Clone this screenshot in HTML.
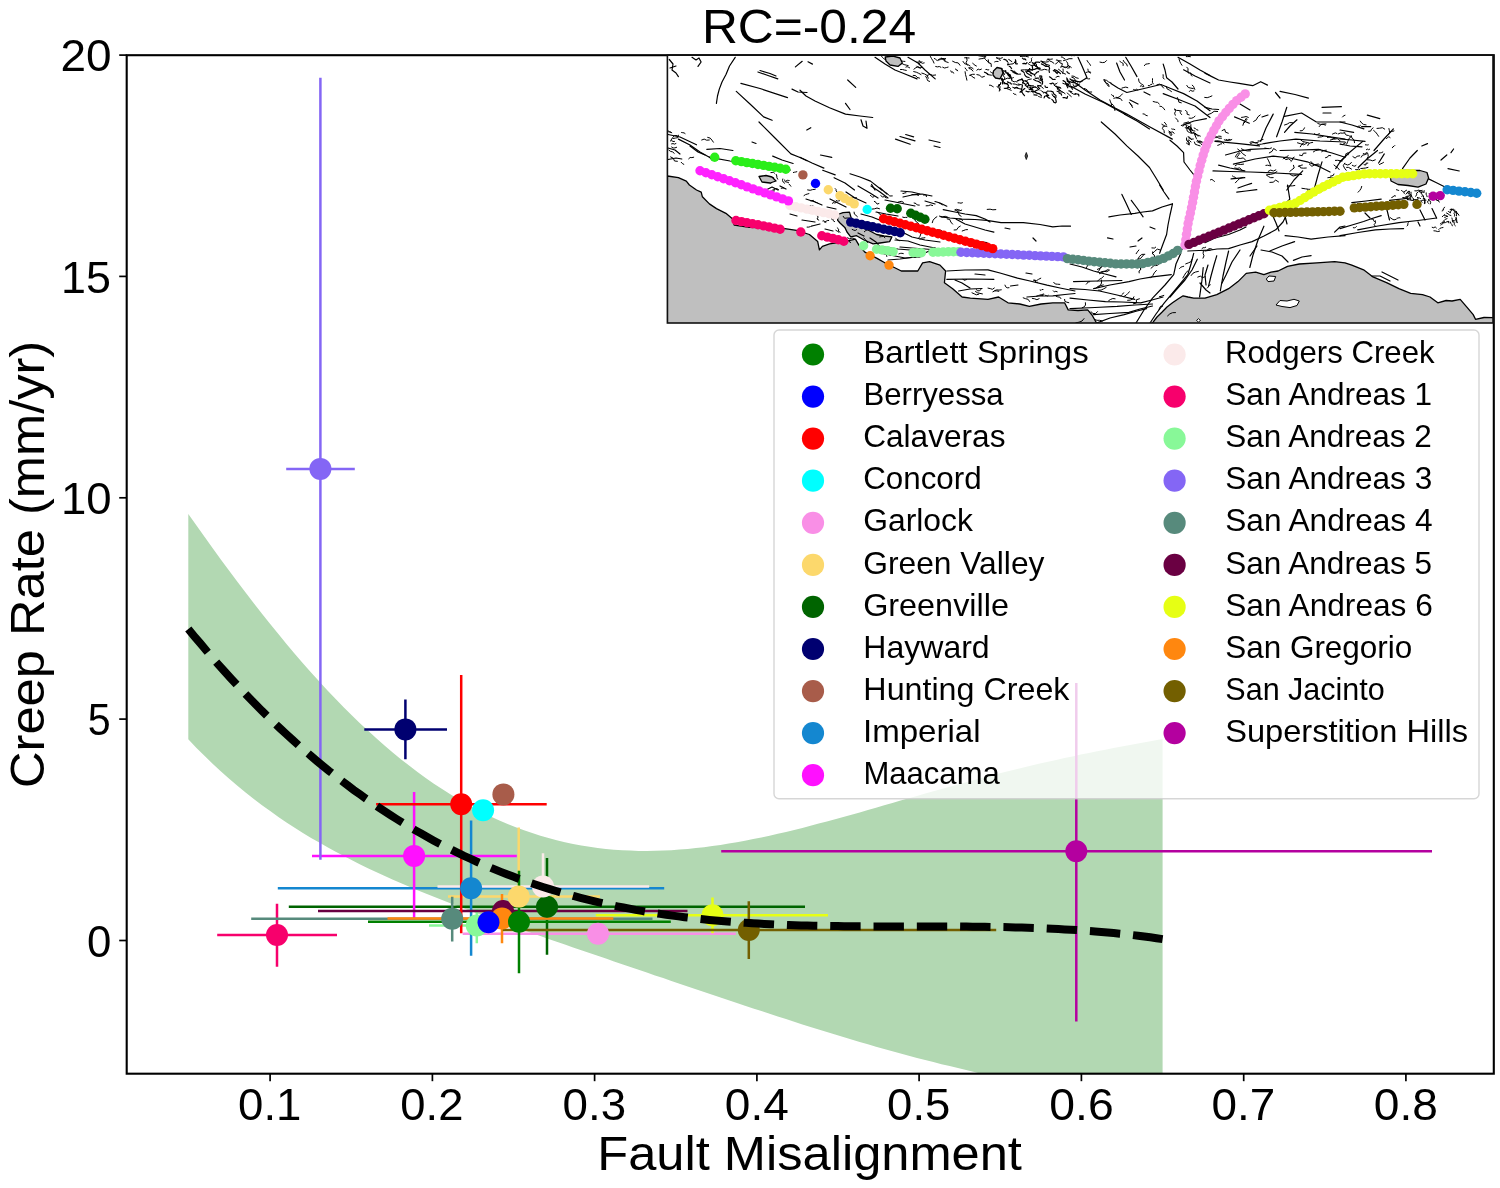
<!DOCTYPE html><html><head><meta charset="utf-8"><style>html,body{margin:0;padding:0;background:#fff}svg{display:block;filter:blur(0.4px)}text{font-family:"Liberation Sans",sans-serif}</style></head><body>
<svg width="1500" height="1188" viewBox="0 0 1500 1188">
<rect width="1500" height="1188" fill="#fff"/>
<defs><clipPath id="ax"><rect x="126.7" y="55.2" width="1367.1" height="1018.5"/></clipPath></defs>
<g clip-path="url(#ax)">
<path d="M188.3,514.0 L196.5,525.6 L204.7,537.1 L212.9,548.5 L221.0,559.7 L229.2,570.8 L237.4,581.8 L245.6,592.6 L253.8,603.2 L262.0,613.7 L270.2,624.0 L278.4,634.1 L286.5,644.0 L294.7,653.7 L302.9,663.2 L311.1,672.5 L319.3,681.5 L327.5,690.4 L335.7,699.0 L343.9,707.4 L352.0,715.5 L360.2,723.4 L368.4,731.1 L376.6,738.5 L384.8,745.7 L393.0,752.7 L401.2,759.4 L409.4,765.8 L417.5,772.0 L425.7,778.0 L433.9,783.7 L442.1,789.1 L450.3,794.3 L458.5,799.3 L466.7,804.0 L474.9,808.5 L483.0,812.7 L491.2,816.7 L499.4,820.4 L507.6,824.0 L515.8,827.2 L524.0,830.3 L532.2,833.1 L540.4,835.7 L548.5,838.1 L556.7,840.3 L564.9,842.2 L573.1,843.9 L581.3,845.5 L589.5,846.8 L597.7,848.0 L605.9,848.9 L614.0,849.7 L622.2,850.2 L630.4,850.6 L638.6,850.9 L646.8,850.9 L655.0,850.8 L663.2,850.6 L671.4,850.2 L679.5,849.6 L687.7,849.0 L695.9,848.1 L704.1,847.2 L712.3,846.1 L720.5,844.9 L728.7,843.6 L736.9,842.2 L745.0,840.7 L753.2,839.1 L761.4,837.4 L769.6,835.7 L777.8,833.8 L786.0,831.9 L794.2,829.9 L802.4,827.9 L810.5,825.8 L818.7,823.6 L826.9,821.5 L835.1,819.2 L843.3,817.0 L851.5,814.7 L859.7,812.4 L867.9,810.0 L876.0,807.7 L884.2,805.3 L892.4,803.0 L900.6,800.6 L908.8,798.3 L917.0,795.9 L925.2,793.6 L933.4,791.3 L941.5,788.9 L949.7,786.7 L957.9,784.4 L966.1,782.2 L974.3,780.0 L982.5,777.8 L990.7,775.6 L998.9,773.5 L1007.0,771.5 L1015.2,769.4 L1023.4,767.5 L1031.6,765.5 L1039.8,763.6 L1048.0,761.7 L1056.2,759.9 L1064.4,758.1 L1072.5,756.4 L1080.7,754.6 L1088.9,753.0 L1097.1,751.3 L1105.3,749.7 L1113.5,748.1 L1121.7,746.6 L1129.9,745.1 L1138.0,743.6 L1146.2,742.1 L1154.4,740.6 L1162.6,739.1 L1162.6,1122.8 L1154.4,1120.6 L1146.2,1118.4 L1138.0,1116.2 L1129.9,1114.0 L1121.7,1111.7 L1113.5,1109.5 L1105.3,1107.3 L1097.1,1105.1 L1088.9,1102.9 L1080.7,1100.7 L1072.5,1098.5 L1064.4,1096.3 L1056.2,1094.1 L1048.0,1091.8 L1039.8,1089.6 L1031.6,1087.4 L1023.4,1085.2 L1015.2,1083.0 L1007.0,1080.8 L998.9,1078.6 L990.7,1076.4 L982.5,1074.2 L974.3,1072.0 L966.1,1070.0 L957.9,1068.1 L949.7,1066.1 L941.5,1064.2 L933.4,1062.1 L925.2,1060.0 L917.0,1057.9 L908.8,1055.7 L900.6,1053.5 L892.4,1051.3 L884.2,1049.0 L876.0,1046.7 L867.9,1044.3 L859.7,1041.9 L851.5,1039.5 L843.3,1037.1 L835.1,1034.6 L826.9,1032.1 L818.7,1029.5 L810.5,1027.0 L802.4,1024.4 L794.2,1021.8 L786.0,1019.1 L777.8,1016.5 L769.6,1013.8 L761.4,1011.1 L753.2,1008.4 L745.0,1005.7 L736.9,1003.0 L728.7,1000.3 L720.5,997.5 L712.3,994.8 L704.1,992.0 L695.9,989.3 L687.7,986.5 L679.5,983.7 L671.4,980.9 L663.2,978.1 L655.0,975.4 L646.8,972.6 L638.6,969.8 L630.4,967.0 L622.2,964.2 L614.0,961.4 L605.9,958.6 L597.7,955.8 L589.5,953.0 L581.3,950.2 L573.1,947.4 L564.9,944.5 L556.7,941.7 L548.5,938.9 L540.4,936.0 L532.2,933.2 L524.0,930.3 L515.8,927.4 L507.6,924.5 L499.4,921.5 L491.2,918.6 L483.0,915.6 L474.9,912.6 L466.7,909.5 L458.5,906.4 L450.3,903.3 L442.1,900.1 L433.9,896.8 L425.7,893.5 L417.5,890.2 L409.4,886.7 L401.2,883.2 L393.0,879.7 L384.8,876.0 L376.6,872.2 L368.4,868.4 L360.2,864.4 L352.0,860.3 L343.9,856.1 L335.7,851.8 L327.5,847.3 L319.3,842.6 L311.1,837.9 L302.9,832.9 L294.7,827.7 L286.5,822.4 L278.4,816.9 L270.2,811.1 L262.0,805.2 L253.8,799.0 L245.6,792.5 L237.4,785.8 L229.2,778.8 L221.0,771.6 L212.9,764.0 L204.7,756.1 L196.5,747.9 L188.3,739.3Z" fill="#b2d8b2"/>
<g stroke-width="2.5" fill="none">
<line x1="462.7" y1="933.7" x2="735.8" y2="933.7" stroke="#f98fe6"/>
<line x1="448" y1="896.6" x2="600" y2="896.6" stroke="#fcd86c"/>
<line x1="518.7" y1="827.6" x2="518.7" y2="900" stroke="#fcd86c"/>
<line x1="288.8" y1="906.8" x2="805" y2="906.8" stroke="#006400"/>
<line x1="547" y1="857.9" x2="547" y2="954.7" stroke="#006400"/>
<line x1="364.3" y1="729.4" x2="447" y2="729.4" stroke="#000070"/>
<line x1="405.4" y1="699.6" x2="405.4" y2="759.3" stroke="#000070"/>
<line x1="277.8" y1="888.2" x2="664.2" y2="888.2" stroke="#1487d0"/>
<line x1="471.1" y1="820.4" x2="471.1" y2="955.7" stroke="#1487d0"/>
<line x1="312" y1="855.9" x2="516.8" y2="855.9" stroke="#ff10ff"/>
<line x1="414.1" y1="792.1" x2="414.1" y2="919.5" stroke="#ff10ff"/>
<line x1="437.5" y1="886.5" x2="649.2" y2="886.5" stroke="#fbeaea"/>
<line x1="543" y1="853.2" x2="543" y2="890" stroke="#fbeaea"/>
<line x1="217.2" y1="935" x2="337" y2="935" stroke="#f7006c"/>
<line x1="277" y1="903.7" x2="277" y2="966.7" stroke="#f7006c"/>
<line x1="429" y1="925.5" x2="505" y2="925.5" stroke="#88f898"/>
<line x1="476.8" y1="909" x2="476.8" y2="943.3" stroke="#88f898"/>
<line x1="286.2" y1="468.9" x2="354.8" y2="468.9" stroke="#8466f5"/>
<line x1="320.4" y1="77.7" x2="320.4" y2="859.7" stroke="#8466f5"/>
<line x1="251.2" y1="918.8" x2="652.5" y2="918.8" stroke="#578a7c"/>
<line x1="452.2" y1="896.7" x2="452.2" y2="941.6" stroke="#578a7c"/>
<line x1="318" y1="911" x2="687.5" y2="911" stroke="#6a0042"/>
<line x1="503" y1="900" x2="503" y2="915" stroke="#6a0042"/>
<line x1="595.8" y1="915.3" x2="828" y2="915.3" stroke="#e6ff14"/>
<line x1="712.5" y1="897.5" x2="712.5" y2="933.3" stroke="#e6ff14"/>
<line x1="387.5" y1="918.4" x2="613.3" y2="918.4" stroke="#ff870f"/>
<line x1="502" y1="894" x2="502" y2="943.3" stroke="#ff870f"/>
<line x1="502.7" y1="930" x2="996.2" y2="930" stroke="#735f00"/>
<line x1="748.8" y1="901.3" x2="748.8" y2="959" stroke="#735f00"/>
<line x1="721.2" y1="851.3" x2="1432" y2="851.3" stroke="#b4009f"/>
<line x1="1076.3" y1="683" x2="1076.3" y2="1021.5" stroke="#b4009f"/>
<line x1="368" y1="921.8" x2="670.8" y2="921.8" stroke="#008000"/>
<line x1="519" y1="870.7" x2="519" y2="973.3" stroke="#008000"/>
<line x1="376.1" y1="804.3" x2="546.7" y2="804.3" stroke="#ff0000"/>
<line x1="461.2" y1="675" x2="461.2" y2="933.3" stroke="#ff0000"/>
</g>
<circle cx="503" cy="911" r="11.0" fill="#6a0042"/>
<circle cx="476.8" cy="925.5" r="11.0" fill="#88f898"/>
<circle cx="502" cy="918.4" r="11.0" fill="#ff870f"/>
<circle cx="488.5" cy="922.3" r="11.0" fill="#0000ff"/>
<circle cx="519" cy="921.8" r="11.0" fill="#008000"/>
<circle cx="598" cy="933.7" r="11.0" fill="#f98fe6"/>
<circle cx="483.1" cy="810.3" r="11.0" fill="#00ffff"/>
<circle cx="503.4" cy="794.4" r="11.0" fill="#a85c4a"/>
<circle cx="461.2" cy="804.3" r="11.0" fill="#ff0000"/>
<circle cx="518.7" cy="896.6" r="11.0" fill="#fcd86c"/>
<circle cx="547" cy="906.8" r="11.0" fill="#006400"/>
<circle cx="405.4" cy="729.4" r="11.0" fill="#000070"/>
<circle cx="471.1" cy="888.2" r="11.0" fill="#1487d0"/>
<circle cx="414.1" cy="855.9" r="11.0" fill="#ff10ff"/>
<circle cx="543" cy="886.5" r="11.0" fill="#fbeaea"/>
<circle cx="277" cy="935" r="11.0" fill="#f7006c"/>
<circle cx="320.4" cy="468.9" r="11.0" fill="#8466f5"/>
<circle cx="452.2" cy="918.8" r="11.0" fill="#578a7c"/>
<circle cx="712.5" cy="915.3" r="11.0" fill="#e6ff14"/>
<circle cx="748.8" cy="930" r="11.0" fill="#735f00"/>
<circle cx="1076.3" cy="851.3" r="11.0" fill="#b4009f"/>
<path d="M188.3,628.9 L194.4,636.4 L200.6,643.7 L206.7,651.0 L212.8,658.1 L218.9,665.1 L225.1,672.0 L231.2,678.7 L237.3,685.3 L243.4,691.8 L249.6,698.2 L255.7,704.5 L261.8,710.7 L268.0,716.7 L274.1,722.7 L280.2,728.5 L286.3,734.2 L292.5,739.8 L298.6,745.3 L304.7,750.6 L310.9,755.9 L317.0,761.1 L323.1,766.1 L329.2,771.1 L335.4,775.9 L341.5,780.7 L347.6,785.3 L353.7,789.9 L359.9,794.3 L366.0,798.7 L372.1,802.9 L378.3,807.1 L384.4,811.1 L390.5,815.1 L396.6,819.0 L402.8,822.8 L408.9,826.5 L415.0,830.1 L421.2,833.6 L427.3,837.0 L433.4,840.4 L439.5,843.7 L445.7,846.8 L451.8,849.9 L457.9,852.9 L464.0,855.9 L470.2,858.7 L476.3,861.5 L482.4,864.2 L488.6,866.8 L494.7,869.4 L500.8,871.9 L506.9,874.3 L513.1,876.6 L519.2,878.9 L525.3,881.0 L531.4,883.2 L537.6,885.2 L543.7,887.2 L549.8,889.1 L556.0,891.0 L562.1,892.8 L568.2,894.5 L574.3,896.2 L580.5,897.8 L586.6,899.4 L592.7,900.9 L598.9,902.3 L605.0,903.7 L611.1,905.0 L617.2,906.3 L623.4,907.5 L629.5,908.7 L635.6,909.9 L641.7,910.9 L647.9,912.0 L654.0,912.9 L660.1,913.9 L666.3,914.8 L672.4,915.6 L678.5,916.4 L684.6,917.2 L690.8,917.9 L696.9,918.6 L703.0,919.3 L709.2,919.9 L715.3,920.4 L721.4,921.0 L727.5,921.5 L733.7,922.0 L739.8,922.4 L745.9,922.8 L752.0,923.2 L758.2,923.6 L764.3,923.9 L770.4,924.2 L776.6,924.5 L782.7,924.7 L788.8,925.0 L794.9,925.2 L801.1,925.4 L807.2,925.5 L813.3,925.7 L819.5,925.8 L825.6,925.9 L831.7,926.0 L837.8,926.1 L844.0,926.2 L850.1,926.3 L856.2,926.3 L862.3,926.3 L868.5,926.4 L874.6,926.4 L880.7,926.4 L886.9,926.4 L893.0,926.4 L899.1,926.5 L905.2,926.5 L911.4,926.5 L917.5,926.5 L923.6,926.5 L929.7,926.5 L935.9,926.5 L942.0,926.5 L948.1,926.5 L954.3,926.5 L960.4,926.6 L966.5,926.6 L972.6,926.7 L978.8,926.7 L984.9,926.8 L991.0,926.9 L997.2,927.0 L1003.3,927.1 L1009.4,927.2 L1015.5,927.4 L1021.7,927.6 L1027.8,927.8 L1033.9,928.0 L1040.0,928.2 L1046.2,928.4 L1052.3,928.7 L1058.4,929.0 L1064.6,929.4 L1070.7,929.7 L1076.8,930.1 L1082.9,930.5 L1089.1,931.0 L1095.2,931.4 L1101.3,931.9 L1107.5,932.5 L1113.6,933.1 L1119.7,933.7 L1125.8,934.3 L1132.0,935.0 L1138.1,935.7 L1144.2,936.5 L1150.3,937.3 L1156.5,938.2 L1162.6,939.1" fill="none" stroke="#000" stroke-width="8" stroke-dasharray="30.4 12.9"/>
</g>
<rect x="126.7" y="55.2" width="1367.1" height="1018.5" fill="none" stroke="#000" stroke-width="2.1"/>
<line x1="270.1" y1="1073.7" x2="270.1" y2="1081.2" stroke="#000" stroke-width="1.7"/>
<line x1="432.4" y1="1073.7" x2="432.4" y2="1081.2" stroke="#000" stroke-width="1.7"/>
<line x1="594.6" y1="1073.7" x2="594.6" y2="1081.2" stroke="#000" stroke-width="1.7"/>
<line x1="756.9" y1="1073.7" x2="756.9" y2="1081.2" stroke="#000" stroke-width="1.7"/>
<line x1="919.1" y1="1073.7" x2="919.1" y2="1081.2" stroke="#000" stroke-width="1.7"/>
<line x1="1081.4" y1="1073.7" x2="1081.4" y2="1081.2" stroke="#000" stroke-width="1.7"/>
<line x1="1243.7" y1="1073.7" x2="1243.7" y2="1081.2" stroke="#000" stroke-width="1.7"/>
<line x1="1405.9" y1="1073.7" x2="1405.9" y2="1081.2" stroke="#000" stroke-width="1.7"/>
<line x1="119.2" y1="940.5" x2="126.7" y2="940.5" stroke="#000" stroke-width="1.7"/>
<line x1="119.2" y1="719.1" x2="126.7" y2="719.1" stroke="#000" stroke-width="1.7"/>
<line x1="119.2" y1="497.8" x2="126.7" y2="497.8" stroke="#000" stroke-width="1.7"/>
<line x1="119.2" y1="276.4" x2="126.7" y2="276.4" stroke="#000" stroke-width="1.7"/>
<line x1="119.2" y1="55.1" x2="126.7" y2="55.1" stroke="#000" stroke-width="1.7"/>
<text transform="translate(238.05,1120.00) scale(1.0350,1)" font-size="44.07">0.1</text>
<text transform="translate(400.31,1120.00) scale(1.0297,1)" font-size="44.07">0.2</text>
<text transform="translate(562.56,1120.00) scale(1.0382,1)" font-size="44.07">0.3</text>
<text transform="translate(724.81,1120.00) scale(1.0442,1)" font-size="44.07">0.4</text>
<text transform="translate(887.09,1120.00) scale(1.0326,1)" font-size="44.07">0.5</text>
<text transform="translate(1049.32,1120.00) scale(1.0508,1)" font-size="44.07">0.6</text>
<text transform="translate(1211.60,1120.00) scale(1.0406,1)" font-size="44.07">0.7</text>
<text transform="translate(1373.84,1120.00) scale(1.0472,1)" font-size="44.07">0.8</text>
<text transform="translate(87.10,956.70) scale(0.9935,1)" font-size="44.07">0</text>
<text transform="translate(87.72,735.35) scale(0.9345,1)" font-size="44.07">5</text>
<text transform="translate(60.96,514.00) scale(1.0336,1)" font-size="44.07">10</text>
<text transform="translate(61.01,292.65) scale(1.0173,1)" font-size="44.07">15</text>
<text transform="translate(60.52,71.30) scale(1.0428,1)" font-size="44.07">20</text>
<text transform="translate(597.32,1169.70) scale(1.0561,1)" font-size="47.92">Fault Misalignment</text>
<text transform="translate(701.90,42.50) scale(1.0355,1)" font-size="48.04">RC=-0.24</text>
<g transform="translate(43.7,0) rotate(-90)"><text transform="translate(-787.93,0.00) scale(1.0592,1)" font-size="47.80">Creep Rate (mm/yr)</text></g>
<g id="map">
<defs><clipPath id="mp"><rect x="667.4" y="55.2" width="825.6" height="267.8"/></clipPath></defs>
<rect x="667.4" y="55.2" width="825.6" height="267.8" fill="#fff"/>
<g clip-path="url(#mp)">
<polygon points="667.4,176.0 678.4,177.7 686.3,181.1 689.4,185.0 696.5,190.0 701.2,192.1 702.4,196.8 709.4,203.9 716.5,208.6 725.9,213.3 733.0,219.2 734.2,225.1 749.5,227.4 784.8,228.6 796.6,230.4 809.4,234.5 817.7,241.6 819.4,249.8 822.4,246.3 829.5,243.9 844.8,241.6 855.4,239.2 858.9,245.1 864.8,252.2 876.6,258.1 884.8,262.8 894.3,267.5 901.3,271.0 917.8,271.0 922.6,262.8 929.6,261.6 940.0,265.1 945.6,271.0 944.4,282.8 952.7,288.7 962.1,297.0 970.4,298.1 988.0,299.3 998.6,297.0 1008.0,302.8 1019.8,304.0 1029.3,306.4 1041.1,304.0 1052.8,302.8 1064.6,302.8 1068.2,309.9 1078.0,310.5 1087.7,309.9 1092.0,315.0 1097.1,324.0 667.4,324.0" fill="#bfbfbf" stroke="#000" stroke-width="1.3" stroke-linejoin="round"/>
<polygon points="1150.0,324.0 1152.5,322.9 1157.0,317.0 1161.9,312.3 1167.0,307.0 1172.5,302.8 1178.0,299.0 1183.1,295.8 1188.0,297.0 1193.7,298.1 1205.0,298.1 1216.8,294.6 1228.6,288.7 1238.0,281.6 1246.2,273.4 1255.7,272.2 1263.9,274.6 1271.0,272.2 1278.1,271.0 1287.5,266.3 1299.3,264.0 1317.0,262.8 1334.6,261.6 1345.0,262.8 1351.8,265.1 1363.6,269.8 1373.0,276.9 1387.1,282.8 1398.9,288.7 1410.7,293.4 1422.5,294.6 1430.0,297.0 1437.8,302.8 1446.1,300.5 1452.0,301.0 1460.2,299.3 1467.3,307.6 1473.2,314.6 1475.5,319.3 1484.0,317.5 1494.0,317.6 1494.0,324.0" fill="#bfbfbf" stroke="#000" stroke-width="1.3" stroke-linejoin="round"/>
<polygon points="1276.0,305.0 1280.0,300.5 1287.0,301.0 1294.0,299.3 1299.3,301.0 1297.0,305.5 1290.0,307.6 1282.0,306.5" fill="#fff" stroke="#000" stroke-width="1.0" stroke-linejoin="round"/>
<polygon points="1266.3,279.0 1269.0,276.0 1275.7,276.5 1274.0,281.0 1268.0,281.6" fill="#fff" stroke="#000" stroke-width="1.0" stroke-linejoin="round"/>
<polygon points="1196.5,320.5 1198.4,318.6 1200.5,320.5 1198.4,322.0" fill="#fff" stroke="#000" stroke-width="0.9" stroke-linejoin="round"/>
<polygon points="837.7,214.5 843.0,212.6 849.5,212.1 851.9,220.4 856.0,224.0 861.3,227.4 868.0,230.0 876.6,234.5 884.0,236.0 891.9,236.9 889.6,241.6 880.0,243.0 873.1,243.9 864.0,240.0 856.6,235.7 850.7,236.9 847.0,232.0 844.8,227.4 840.0,223.0 837.7,220.4" fill="#bfbfbf" stroke="#000" stroke-width="1.3" stroke-linejoin="round"/>
<polyline points="735.2,57.3 729.5,66.0 726.1,74.3 722.0,82.0 719.3,89.1 717.5,96.0 716.4,103.3" fill="none" stroke="#000" stroke-width="1.2" stroke-linejoin="round" stroke-linecap="round"/>
<polyline points="740.9,83.4 760.0,88.5 787.5,97.6" fill="none" stroke="#000" stroke-width="1.2" stroke-linejoin="round" stroke-linecap="round"/>
<polyline points="757.9,72.0 768.0,75.5 777.8,78.9" fill="none" stroke="#000" stroke-width="1.2" stroke-linejoin="round" stroke-linecap="round"/>
<polyline points="760.0,70.5 770.0,73.5 776.0,76.0" fill="none" stroke="#000" stroke-width="1.2" stroke-linejoin="round" stroke-linecap="round"/>
<polyline points="736.3,91.4 750.0,104.0 763.6,116.9 772.1,120.3" fill="none" stroke="#000" stroke-width="1.2" stroke-linejoin="round" stroke-linecap="round"/>
<polyline points="759.0,122.0 775.0,138.0 790.9,153.9 800.0,157.5 807.0,160.7" fill="none" stroke="#000" stroke-width="1.2" stroke-linejoin="round" stroke-linecap="round"/>
<polyline points="795.4,66.9 802.2,61.3" fill="none" stroke="#000" stroke-width="1.2" stroke-linejoin="round" stroke-linecap="round"/>
<polyline points="669.3,59.5 673.0,64.0 672.0,70.0 676.0,73.0 678.4,76.6" fill="none" stroke="#000" stroke-width="1.2" stroke-linejoin="round" stroke-linecap="round"/>
<polyline points="670.0,68.0 676.0,66.0" fill="none" stroke="#000" stroke-width="1.2" stroke-linejoin="round" stroke-linecap="round"/>
<polyline points="692.0,57.3 696.0,60.0 699.0,58.0 701.1,62.0 698.0,66.4" fill="none" stroke="#000" stroke-width="1.2" stroke-linejoin="round" stroke-linecap="round"/>
<polyline points="668.1,134.5 680.0,137.0 696.5,144.8" fill="none" stroke="#000" stroke-width="1.2" stroke-linejoin="round" stroke-linecap="round"/>
<polyline points="678.4,139.1 690.0,145.0 700.0,152.0 710.2,157.8" fill="none" stroke="#000" stroke-width="1.2" stroke-linejoin="round" stroke-linecap="round"/>
<polyline points="668.1,159.5 676.0,158.0 681.8,159.0" fill="none" stroke="#000" stroke-width="1.2" stroke-linejoin="round" stroke-linecap="round"/>
<polyline points="668.0,148.0 675.0,150.0 680.0,154.0" fill="none" stroke="#000" stroke-width="1.2" stroke-linejoin="round" stroke-linecap="round"/>
<polyline points="706.8,149.3 720.0,148.5 732.9,150.5" fill="none" stroke="#000" stroke-width="1.2" stroke-linejoin="round" stroke-linecap="round"/>
<polyline points="710.2,157.3 730.0,161.0 750.0,164.0 770.0,167.0 789.7,169.8" fill="none" stroke="#000" stroke-width="1.2" stroke-linejoin="round" stroke-linecap="round"/>
<polyline points="772.7,156.1 782.0,160.0 793.1,163.5" fill="none" stroke="#000" stroke-width="1.2" stroke-linejoin="round" stroke-linecap="round"/>
<polyline points="792.0,89.1 798.0,92.0 807.0,92.5" fill="none" stroke="#000" stroke-width="1.2" stroke-linejoin="round" stroke-linecap="round"/>
<polyline points="752.0,142.0 756.0,143.5" fill="none" stroke="#000" stroke-width="1.2" stroke-linejoin="round" stroke-linecap="round"/>
<polyline points="690.0,146.0 698.0,152.0 705.0,155.0" fill="none" stroke="#000" stroke-width="1.2" stroke-linejoin="round" stroke-linecap="round"/>
<polyline points="800.0,90.2 806.0,96.0 815.0,101.0 829.5,107.8 845.5,114.1 860.0,116.0 872.7,117.5" fill="none" stroke="#000" stroke-width="1.2" stroke-linejoin="round" stroke-linecap="round"/>
<polyline points="847.7,80.0 855.7,87.4" fill="none" stroke="#000" stroke-width="1.2" stroke-linejoin="round" stroke-linecap="round"/>
<polyline points="845.5,103.3 850.0,109.5" fill="none" stroke="#000" stroke-width="1.2" stroke-linejoin="round" stroke-linecap="round"/>
<polyline points="861.0,119.8 863.0,126.0 867.0,128.3 866.0,121.0" fill="none" stroke="#000" stroke-width="1.2" stroke-linejoin="round" stroke-linecap="round"/>
<polyline points="808.0,61.8 812.5,64.1" fill="none" stroke="#000" stroke-width="1.2" stroke-linejoin="round" stroke-linecap="round"/>
<polyline points="806.8,130.0 810.8,127.7" fill="none" stroke="#000" stroke-width="1.2" stroke-linejoin="round" stroke-linecap="round"/>
<polyline points="895.5,139.1 910.2,144.2" fill="none" stroke="#000" stroke-width="1.2" stroke-linejoin="round" stroke-linecap="round"/>
<polyline points="900.0,136.5 915.0,140.8" fill="none" stroke="#000" stroke-width="1.2" stroke-linejoin="round" stroke-linecap="round"/>
<polyline points="905.7,134.5 913.6,136.8" fill="none" stroke="#000" stroke-width="1.2" stroke-linejoin="round" stroke-linecap="round"/>
<polyline points="929.0,140.0 940.0,142.5" fill="none" stroke="#000" stroke-width="1.2" stroke-linejoin="round" stroke-linecap="round"/>
<polyline points="934.0,146.0 940.0,147.5" fill="none" stroke="#000" stroke-width="1.2" stroke-linejoin="round" stroke-linecap="round"/>
<polyline points="800.0,157.3 812.0,163.0 823.9,168.1" fill="none" stroke="#000" stroke-width="1.2" stroke-linejoin="round" stroke-linecap="round"/>
<polyline points="820.5,155.0 831.8,157.3" fill="none" stroke="#000" stroke-width="1.2" stroke-linejoin="round" stroke-linecap="round"/>
<polyline points="822.7,170.3 835.2,174.9" fill="none" stroke="#000" stroke-width="1.2" stroke-linejoin="round" stroke-linecap="round"/>
<polyline points="834.1,177.7 845.0,183.0 854.5,190.0" fill="none" stroke="#000" stroke-width="1.2" stroke-linejoin="round" stroke-linecap="round"/>
<polyline points="850.0,173.8 860.0,177.0 870.5,181.1 881.8,190.0" fill="none" stroke="#000" stroke-width="1.2" stroke-linejoin="round" stroke-linecap="round"/>
<polyline points="871.6,184.5 875.0,190.0" fill="none" stroke="#000" stroke-width="1.2" stroke-linejoin="round" stroke-linecap="round"/>
<polyline points="875.0,57.3 885.0,64.0 895.0,70.0 905.0,74.0 917.0,78.9" fill="none" stroke="#000" stroke-width="1.2" stroke-linejoin="round" stroke-linecap="round"/>
<polyline points="908.0,57.3 918.0,63.0 925.0,70.0 935.2,78.9" fill="none" stroke="#000" stroke-width="1.2" stroke-linejoin="round" stroke-linecap="round"/>
<polyline points="1101.3,122.0 1115.0,134.0 1126.8,145.9 1138.0,156.0 1149.5,167.5 1156.0,178.0 1163.2,190.0" fill="none" stroke="#000" stroke-width="1.2" stroke-linejoin="round" stroke-linecap="round"/>
<polyline points="1070.0,78.9 1085.0,90.0 1100.0,100.0 1115.0,108.0 1126.8,114.1 1150.0,127.0 1172.3,139.1" fill="none" stroke="#000" stroke-width="1.2" stroke-linejoin="round" stroke-linecap="round"/>
<polyline points="1070.0,85.7 1085.0,94.0 1104.1,102.7 1124.5,114.1" fill="none" stroke="#000" stroke-width="1.2" stroke-linejoin="round" stroke-linecap="round"/>
<polyline points="1124.5,114.1 1137.0,121.0 1149.5,128.9" fill="none" stroke="#000" stroke-width="1.2" stroke-linejoin="round" stroke-linecap="round"/>
<polyline points="1110.9,83.4 1118.0,88.0 1126.8,92.5 1142.0,89.0 1160.9,84.5" fill="none" stroke="#000" stroke-width="1.2" stroke-linejoin="round" stroke-linecap="round"/>
<polyline points="1160.9,84.5 1172.0,89.0 1183.6,93.6 1197.0,101.0 1210.0,110.7" fill="none" stroke="#000" stroke-width="1.2" stroke-linejoin="round" stroke-linecap="round"/>
<polyline points="1163.2,93.6 1180.0,100.0 1195.0,106.0 1210.0,117.5" fill="none" stroke="#000" stroke-width="1.2" stroke-linejoin="round" stroke-linecap="round"/>
<polyline points="1163.2,64.1 1165.0,70.0 1166.6,77.7 1172.0,82.0 1178.0,89.0" fill="none" stroke="#000" stroke-width="1.2" stroke-linejoin="round" stroke-linecap="round"/>
<polyline points="1078.0,57.3 1082.0,66.0 1087.0,77.7 1080.0,82.0 1072.0,80.0" fill="none" stroke="#000" stroke-width="1.2" stroke-linejoin="round" stroke-linecap="round"/>
<polyline points="1116.6,63.0 1120.0,72.0 1124.5,80.0" fill="none" stroke="#000" stroke-width="1.2" stroke-linejoin="round" stroke-linecap="round"/>
<polyline points="1125.7,57.3 1131.0,66.0 1137.0,76.6" fill="none" stroke="#000" stroke-width="1.2" stroke-linejoin="round" stroke-linecap="round"/>
<polyline points="1178.0,57.3 1190.0,64.0 1200.0,70.0 1210.0,75.5" fill="none" stroke="#000" stroke-width="1.2" stroke-linejoin="round" stroke-linecap="round"/>
<polyline points="1183.6,69.8 1195.0,76.0 1210.0,83.0" fill="none" stroke="#000" stroke-width="1.2" stroke-linejoin="round" stroke-linecap="round"/>
<polyline points="1181.4,125.5 1194.0,121.0 1206.4,118.6" fill="none" stroke="#000" stroke-width="1.2" stroke-linejoin="round" stroke-linecap="round"/>
<polyline points="1170.0,140.2 1177.0,146.0 1183.6,152.7 1184.0,162.0 1190.0,170.0 1196.1,177.7" fill="none" stroke="#000" stroke-width="1.2" stroke-linejoin="round" stroke-linecap="round"/>
<polyline points="1144.0,92.0 1150.0,95.0" fill="none" stroke="#000" stroke-width="1.2" stroke-linejoin="round" stroke-linecap="round"/>
<polyline points="1130.0,100.0 1138.0,104.0" fill="none" stroke="#000" stroke-width="1.2" stroke-linejoin="round" stroke-linecap="round"/>
<polyline points="1205.0,73.2 1211.8,76.6 1218.6,80.0 1230.0,82.0 1239.1,83.4 1252.7,85.7 1260.7,81.7 1267.5,85.1" fill="none" stroke="#000" stroke-width="1.2" stroke-linejoin="round" stroke-linecap="round"/>
<polyline points="1205.0,107.3 1212.0,109.0 1218.6,109.5" fill="none" stroke="#000" stroke-width="1.2" stroke-linejoin="round" stroke-linecap="round"/>
<polyline points="1234.5,116.9 1242.0,120.0 1249.3,123.2" fill="none" stroke="#000" stroke-width="1.2" stroke-linejoin="round" stroke-linecap="round"/>
<polyline points="1280.0,91.4 1295.0,94.5 1308.4,98.2" fill="none" stroke="#000" stroke-width="1.2" stroke-linejoin="round" stroke-linecap="round"/>
<polyline points="1275.5,92.5 1280.0,98.0" fill="none" stroke="#000" stroke-width="1.2" stroke-linejoin="round" stroke-linecap="round"/>
<polyline points="1322.0,107.3 1341.4,106.7" fill="none" stroke="#000" stroke-width="1.2" stroke-linejoin="round" stroke-linecap="round"/>
<polyline points="1323.0,113.0 1331.0,113.0" fill="none" stroke="#000" stroke-width="1.2" stroke-linejoin="round" stroke-linecap="round"/>
<polyline points="1260.7,141.4 1266.0,128.0 1273.2,114.1" fill="none" stroke="#000" stroke-width="1.2" stroke-linejoin="round" stroke-linecap="round"/>
<polyline points="1276.6,136.8 1282.0,122.0 1286.8,107.3" fill="none" stroke="#000" stroke-width="1.2" stroke-linejoin="round" stroke-linecap="round"/>
<polyline points="1284.5,132.3 1290.0,126.0 1297.0,119.8" fill="none" stroke="#000" stroke-width="1.2" stroke-linejoin="round" stroke-linecap="round"/>
<polyline points="1284.5,116.4 1301.6,113.0 1316.4,122.0 1330.0,122.0 1345.0,122.0" fill="none" stroke="#000" stroke-width="1.2" stroke-linejoin="round" stroke-linecap="round"/>
<polyline points="1215.2,141.4 1239.1,143.6 1259.5,145.9" fill="none" stroke="#000" stroke-width="1.2" stroke-linejoin="round" stroke-linecap="round"/>
<polyline points="1264.1,143.6 1280.0,141.0 1295.9,139.1 1320.0,141.0 1345.0,142.0" fill="none" stroke="#000" stroke-width="1.2" stroke-linejoin="round" stroke-linecap="round"/>
<polyline points="1294.8,132.3 1312.0,134.0 1330.0,136.8 1345.0,139.0" fill="none" stroke="#000" stroke-width="1.2" stroke-linejoin="round" stroke-linecap="round"/>
<polyline points="1225.5,155.0 1240.0,151.0 1250.5,149.3 1268.0,148.5" fill="none" stroke="#000" stroke-width="1.2" stroke-linejoin="round" stroke-linecap="round"/>
<polyline points="1280.0,150.5 1300.0,150.0 1318.6,149.3 1332.0,153.0 1345.0,157.3" fill="none" stroke="#000" stroke-width="1.2" stroke-linejoin="round" stroke-linecap="round"/>
<polyline points="1233.4,164.1 1255.0,159.0 1273.2,156.1 1290.0,158.0 1307.3,161.8 1320.0,167.0 1330.0,172.0" fill="none" stroke="#000" stroke-width="1.2" stroke-linejoin="round" stroke-linecap="round"/>
<polyline points="1213.0,170.9 1230.0,171.5 1250.5,172.0 1275.0,173.0 1301.6,174.3" fill="none" stroke="#000" stroke-width="1.2" stroke-linejoin="round" stroke-linecap="round"/>
<polyline points="1218.6,165.2 1230.0,168.0 1244.8,170.9" fill="none" stroke="#000" stroke-width="1.2" stroke-linejoin="round" stroke-linecap="round"/>
<polyline points="1231.1,178.9 1244.8,177.7" fill="none" stroke="#000" stroke-width="1.2" stroke-linejoin="round" stroke-linecap="round"/>
<polyline points="1238.0,188.0 1245.0,185.5 1251.6,183.4" fill="none" stroke="#000" stroke-width="1.2" stroke-linejoin="round" stroke-linecap="round"/>
<polyline points="1286.8,190.0 1294.0,180.0 1302.7,170.9" fill="none" stroke="#000" stroke-width="1.2" stroke-linejoin="round" stroke-linecap="round"/>
<polyline points="1335.7,168.6 1340.0,162.0 1345.0,157.0" fill="none" stroke="#000" stroke-width="1.2" stroke-linejoin="round" stroke-linecap="round"/>
<polyline points="1314.0,190.0 1318.0,175.0 1322.0,161.8" fill="none" stroke="#000" stroke-width="1.2" stroke-linejoin="round" stroke-linecap="round"/>
<polyline points="1262.0,117.0 1268.0,115.0" fill="none" stroke="#000" stroke-width="1.2" stroke-linejoin="round" stroke-linecap="round"/>
<polyline points="1240.0,104.0 1250.0,110.0" fill="none" stroke="#000" stroke-width="1.2" stroke-linejoin="round" stroke-linecap="round"/>
<polyline points="1374.0,150.5 1384.0,139.0 1393.4,128.9" fill="none" stroke="#000" stroke-width="1.2" stroke-linejoin="round" stroke-linecap="round"/>
<polyline points="1358.2,167.5 1367.0,159.0 1377.5,150.5" fill="none" stroke="#000" stroke-width="1.2" stroke-linejoin="round" stroke-linecap="round"/>
<polyline points="1340.0,161.8 1350.0,152.0 1362.7,141.4" fill="none" stroke="#000" stroke-width="1.2" stroke-linejoin="round" stroke-linecap="round"/>
<polyline points="1378.6,163.0 1384.3,153.9" fill="none" stroke="#000" stroke-width="1.2" stroke-linejoin="round" stroke-linecap="round"/>
<polyline points="1402.5,168.6 1410.0,158.0 1417.3,150.5" fill="none" stroke="#000" stroke-width="1.2" stroke-linejoin="round" stroke-linecap="round"/>
<polyline points="1421.8,146.0 1427.5,143.6" fill="none" stroke="#000" stroke-width="1.2" stroke-linejoin="round" stroke-linecap="round"/>
<polyline points="1441.0,160.0 1446.8,155.0" fill="none" stroke="#000" stroke-width="1.2" stroke-linejoin="round" stroke-linecap="round"/>
<polyline points="1451.0,152.7 1453.6,149.0" fill="none" stroke="#000" stroke-width="1.2" stroke-linejoin="round" stroke-linecap="round"/>
<polyline points="1448.0,168.6 1459.3,171.0" fill="none" stroke="#000" stroke-width="1.2" stroke-linejoin="round" stroke-linecap="round"/>
<polyline points="1367.3,115.2 1379.8,118.6" fill="none" stroke="#000" stroke-width="1.2" stroke-linejoin="round" stroke-linecap="round"/>
<polyline points="1340.0,122.0 1352.0,125.0 1363.9,128.9" fill="none" stroke="#000" stroke-width="1.2" stroke-linejoin="round" stroke-linecap="round"/>
<polyline points="1340.0,130.0 1353.6,132.3" fill="none" stroke="#000" stroke-width="1.2" stroke-linejoin="round" stroke-linecap="round"/>
<polyline points="1361.6,126.6 1370.7,126.6" fill="none" stroke="#000" stroke-width="1.2" stroke-linejoin="round" stroke-linecap="round"/>
<polyline points="1340.0,139.0 1352.0,140.0 1365.0,141.4" fill="none" stroke="#000" stroke-width="1.2" stroke-linejoin="round" stroke-linecap="round"/>
<polyline points="1340.0,144.0 1350.0,146.0 1362.0,146.8" fill="none" stroke="#000" stroke-width="1.2" stroke-linejoin="round" stroke-linecap="round"/>
<polyline points="1428.6,178.9 1436.0,182.5 1444.5,186.8" fill="none" stroke="#000" stroke-width="1.2" stroke-linejoin="round" stroke-linecap="round"/>
<polyline points="801.0,207.0 812.0,211.0 825.0,214.0" fill="none" stroke="#000" stroke-width="1.2" stroke-linejoin="round" stroke-linecap="round"/>
<polyline points="802.0,220.0 815.0,222.0" fill="none" stroke="#000" stroke-width="1.2" stroke-linejoin="round" stroke-linecap="round"/>
<polyline points="827.0,207.0 836.0,209.0" fill="none" stroke="#000" stroke-width="1.2" stroke-linejoin="round" stroke-linecap="round"/>
<polyline points="806.0,199.0 815.0,202.0 822.0,205.0" fill="none" stroke="#000" stroke-width="1.2" stroke-linejoin="round" stroke-linecap="round"/>
<polyline points="830.0,199.0 838.0,203.0 846.0,207.0" fill="none" stroke="#000" stroke-width="1.2" stroke-linejoin="round" stroke-linecap="round"/>
<polyline points="846.0,192.0 855.0,198.0 866.0,203.0" fill="none" stroke="#000" stroke-width="1.2" stroke-linejoin="round" stroke-linecap="round"/>
<polyline points="858.0,186.0 870.0,193.0 878.0,198.0" fill="none" stroke="#000" stroke-width="1.2" stroke-linejoin="round" stroke-linecap="round"/>
<polyline points="871.0,186.0 880.0,192.0 888.0,198.0" fill="none" stroke="#000" stroke-width="1.2" stroke-linejoin="round" stroke-linecap="round"/>
<polyline points="880.0,188.0 887.0,194.0" fill="none" stroke="#000" stroke-width="1.2" stroke-linejoin="round" stroke-linecap="round"/>
<polyline points="885.0,200.0 900.0,203.0 915.0,206.0" fill="none" stroke="#000" stroke-width="1.2" stroke-linejoin="round" stroke-linecap="round"/>
<polyline points="903.0,197.0 912.0,195.0 922.0,194.0 932.0,196.0" fill="none" stroke="#000" stroke-width="1.2" stroke-linejoin="round" stroke-linecap="round"/>
<polyline points="901.0,191.0 912.0,192.0 920.0,194.0" fill="none" stroke="#000" stroke-width="1.2" stroke-linejoin="round" stroke-linecap="round"/>
<polyline points="925.0,201.0 935.0,204.0" fill="none" stroke="#000" stroke-width="1.2" stroke-linejoin="round" stroke-linecap="round"/>
<polyline points="876.0,212.0 886.0,214.0 898.0,216.0" fill="none" stroke="#000" stroke-width="1.2" stroke-linejoin="round" stroke-linecap="round"/>
<polyline points="861.0,214.0 872.0,217.0 882.0,221.0" fill="none" stroke="#000" stroke-width="1.2" stroke-linejoin="round" stroke-linecap="round"/>
<polyline points="888.0,228.0 900.0,231.0 912.0,237.0 925.0,240.0 940.0,242.0" fill="none" stroke="#000" stroke-width="1.2" stroke-linejoin="round" stroke-linecap="round"/>
<polyline points="895.0,240.0 908.0,241.0 920.0,245.0 935.0,248.0" fill="none" stroke="#000" stroke-width="1.2" stroke-linejoin="round" stroke-linecap="round"/>
<polyline points="884.0,247.0 898.0,249.0 910.0,250.0" fill="none" stroke="#000" stroke-width="1.2" stroke-linejoin="round" stroke-linecap="round"/>
<polyline points="880.0,253.0 895.0,256.0 905.0,258.0 920.0,257.0" fill="none" stroke="#000" stroke-width="1.2" stroke-linejoin="round" stroke-linecap="round"/>
<polyline points="888.0,260.0 900.0,259.0 915.0,257.0 925.0,253.0 935.0,248.0" fill="none" stroke="#000" stroke-width="1.2" stroke-linejoin="round" stroke-linecap="round"/>
<polyline points="870.0,238.0 876.0,242.0 880.0,247.0" fill="none" stroke="#000" stroke-width="1.2" stroke-linejoin="round" stroke-linecap="round"/>
<polyline points="858.0,233.0 864.0,236.0" fill="none" stroke="#000" stroke-width="1.2" stroke-linejoin="round" stroke-linecap="round"/>
<polyline points="900.0,247.0 912.0,248.0 925.0,249.0 938.0,250.0" fill="none" stroke="#000" stroke-width="1.2" stroke-linejoin="round" stroke-linecap="round"/>
<polyline points="766.0,190.0 772.0,187.0 778.0,190.0" fill="none" stroke="#000" stroke-width="1.2" stroke-linejoin="round" stroke-linecap="round"/>
<polyline points="780.0,186.0 786.0,189.0" fill="none" stroke="#000" stroke-width="1.2" stroke-linejoin="round" stroke-linecap="round"/>
<polyline points="771.0,195.0 779.0,198.0" fill="none" stroke="#000" stroke-width="1.2" stroke-linejoin="round" stroke-linecap="round"/>
<polyline points="790.0,214.0 797.0,216.0" fill="none" stroke="#000" stroke-width="1.2" stroke-linejoin="round" stroke-linecap="round"/>
<polyline points="812.0,226.0 820.0,224.0" fill="none" stroke="#000" stroke-width="1.2" stroke-linejoin="round" stroke-linecap="round"/>
<polyline points="825.0,229.0 833.0,231.0" fill="none" stroke="#000" stroke-width="1.2" stroke-linejoin="round" stroke-linecap="round"/>
<polyline points="935.0,201.5 940.0,203.0 946.8,206.2" fill="none" stroke="#000" stroke-width="1.2" stroke-linejoin="round" stroke-linecap="round"/>
<polyline points="940.9,216.8 950.0,218.0 962.1,219.2 975.0,219.5 986.9,220.4 1001.0,222.7 1023.4,222.7 1040.0,224.5 1052.8,226.8 1062.0,226.0 1070.5,226.2" fill="none" stroke="#000" stroke-width="1.2" stroke-linejoin="round" stroke-linecap="round"/>
<polyline points="943.2,209.7 955.0,212.0 965.0,214.0 976.2,215.6 985.0,219.0 990.0,222.0" fill="none" stroke="#000" stroke-width="1.2" stroke-linejoin="round" stroke-linecap="round"/>
<polyline points="956.2,219.2 965.0,224.0 975.0,227.0 985.0,230.0 993.9,232.1" fill="none" stroke="#000" stroke-width="1.2" stroke-linejoin="round" stroke-linecap="round"/>
<polyline points="955.0,239.2 970.0,240.5 986.9,242.7" fill="none" stroke="#000" stroke-width="1.2" stroke-linejoin="round" stroke-linecap="round"/>
<polyline points="946.8,271.0 965.0,270.0 988.0,269.8 1000.0,273.0 1017.5,278.1 1030.0,281.0 1047.0,285.2 1060.0,288.0 1075.0,291.0" fill="none" stroke="#000" stroke-width="1.2" stroke-linejoin="round" stroke-linecap="round"/>
<polyline points="946.8,279.3 970.0,279.0 993.9,279.3" fill="none" stroke="#000" stroke-width="1.2" stroke-linejoin="round" stroke-linecap="round"/>
<polyline points="958.6,291.0 970.0,289.0 982.0,288.5" fill="none" stroke="#000" stroke-width="1.2" stroke-linejoin="round" stroke-linecap="round"/>
<polyline points="1026.9,297.0 1040.0,296.0 1052.8,295.8 1065.0,294.5 1075.0,293.5" fill="none" stroke="#000" stroke-width="1.2" stroke-linejoin="round" stroke-linecap="round"/>
<polyline points="1010.5,286.0 1018.0,285.0" fill="none" stroke="#000" stroke-width="1.2" stroke-linejoin="round" stroke-linecap="round"/>
<polyline points="1026.0,273.0 1032.0,274.0" fill="none" stroke="#000" stroke-width="1.2" stroke-linejoin="round" stroke-linecap="round"/>
<polyline points="1005.0,228.0 1010.0,229.0" fill="none" stroke="#000" stroke-width="1.2" stroke-linejoin="round" stroke-linecap="round"/>
<polyline points="1033.0,238.0 1036.0,241.0" fill="none" stroke="#000" stroke-width="1.2" stroke-linejoin="round" stroke-linecap="round"/>
<polyline points="955.0,280.0 962.0,283.0 970.0,288.0" fill="none" stroke="#000" stroke-width="1.2" stroke-linejoin="round" stroke-linecap="round"/>
<polyline points="975.0,274.0 985.0,275.0" fill="none" stroke="#000" stroke-width="1.2" stroke-linejoin="round" stroke-linecap="round"/>
<polyline points="1159.6,185.0 1164.0,192.0 1169.0,199.1" fill="none" stroke="#000" stroke-width="1.2" stroke-linejoin="round" stroke-linecap="round"/>
<polyline points="1108.9,216.8 1120.0,215.0 1134.8,213.3 1143.0,212.0 1152.5,210.9 1162.0,207.0 1172.5,203.9" fill="none" stroke="#000" stroke-width="1.2" stroke-linejoin="round" stroke-linecap="round"/>
<polyline points="1121.9,194.4 1126.0,203.0 1131.3,214.5" fill="none" stroke="#000" stroke-width="1.2" stroke-linejoin="round" stroke-linecap="round"/>
<polyline points="1131.3,200.3 1137.0,208.0 1143.1,216.8" fill="none" stroke="#000" stroke-width="1.2" stroke-linejoin="round" stroke-linecap="round"/>
<polyline points="1172.5,203.9 1170.0,215.0 1168.0,225.0 1166.6,234.5 1163.0,244.0 1159.6,253.3" fill="none" stroke="#000" stroke-width="1.2" stroke-linejoin="round" stroke-linecap="round"/>
<polyline points="1180.8,253.3 1176.0,264.0 1173.7,274.6 1165.0,285.0 1152.5,298.1 1144.0,310.0 1136.0,323.0" fill="none" stroke="#000" stroke-width="1.2" stroke-linejoin="round" stroke-linecap="round"/>
<polyline points="1193.7,253.3 1191.0,264.0 1187.8,274.6 1176.0,289.0 1164.3,302.8 1156.0,314.0 1150.0,323.0" fill="none" stroke="#000" stroke-width="1.2" stroke-linejoin="round" stroke-linecap="round"/>
<polyline points="1197.3,259.2 1192.0,270.0 1185.0,280.0 1176.0,290.0 1170.0,297.0" fill="none" stroke="#000" stroke-width="1.2" stroke-linejoin="round" stroke-linecap="round"/>
<polyline points="1070.0,264.0 1082.0,267.0 1093.6,271.0 1105.0,274.0 1116.0,276.9" fill="none" stroke="#000" stroke-width="1.2" stroke-linejoin="round" stroke-linecap="round"/>
<polyline points="1073.5,281.6 1098.0,281.0 1121.9,280.5" fill="none" stroke="#000" stroke-width="1.2" stroke-linejoin="round" stroke-linecap="round"/>
<polyline points="1070.0,288.7 1085.0,289.5 1099.5,291.0 1117.0,295.0 1134.8,299.3" fill="none" stroke="#000" stroke-width="1.2" stroke-linejoin="round" stroke-linecap="round"/>
<polyline points="1093.6,288.7 1110.0,285.0 1128.9,281.6 1140.0,279.0 1152.5,276.9 1171.3,274.6" fill="none" stroke="#000" stroke-width="1.2" stroke-linejoin="round" stroke-linecap="round"/>
<polyline points="1070.0,298.1 1088.0,300.0 1105.4,301.7 1122.0,302.0 1140.7,302.8 1152.0,300.0 1163.0,297.0" fill="none" stroke="#000" stroke-width="1.2" stroke-linejoin="round" stroke-linecap="round"/>
<polyline points="1070.0,308.7 1095.0,307.5 1117.1,306.4 1135.0,305.0 1152.5,304.0" fill="none" stroke="#000" stroke-width="1.2" stroke-linejoin="round" stroke-linecap="round"/>
<polyline points="1093.6,314.6 1110.0,313.5 1128.9,312.3 1140.0,309.0 1152.5,306.0" fill="none" stroke="#000" stroke-width="1.2" stroke-linejoin="round" stroke-linecap="round"/>
<polyline points="1097.1,322.9 1110.0,318.0 1124.2,314.6 1137.0,311.0 1146.6,308.7" fill="none" stroke="#000" stroke-width="1.2" stroke-linejoin="round" stroke-linecap="round"/>
<polyline points="1203.2,267.5 1202.0,280.0 1199.6,296.9" fill="none" stroke="#000" stroke-width="1.2" stroke-linejoin="round" stroke-linecap="round"/>
<polyline points="1187.8,251.0 1199.0,250.5 1210.0,250.2" fill="none" stroke="#000" stroke-width="1.2" stroke-linejoin="round" stroke-linecap="round"/>
<polyline points="1208.0,265.0 1205.0,275.0 1206.0,285.0" fill="none" stroke="#000" stroke-width="1.2" stroke-linejoin="round" stroke-linecap="round"/>
<polyline points="1200.0,283.0 1206.0,290.0 1210.0,293.0" fill="none" stroke="#000" stroke-width="1.2" stroke-linejoin="round" stroke-linecap="round"/>
<polyline points="1138.0,241.0 1142.0,238.0" fill="none" stroke="#000" stroke-width="1.2" stroke-linejoin="round" stroke-linecap="round"/>
<polyline points="1130.0,247.0 1136.0,246.0" fill="none" stroke="#000" stroke-width="1.2" stroke-linejoin="round" stroke-linecap="round"/>
<polyline points="1150.0,227.0 1155.0,229.0" fill="none" stroke="#000" stroke-width="1.2" stroke-linejoin="round" stroke-linecap="round"/>
<polyline points="1107.5,237.8 1113.0,239.0" fill="none" stroke="#000" stroke-width="1.2" stroke-linejoin="round" stroke-linecap="round"/>
<polyline points="1205.0,242.7 1215.0,238.0 1228.6,234.5 1240.0,230.0 1246.0,227.0" fill="none" stroke="#000" stroke-width="1.2" stroke-linejoin="round" stroke-linecap="round"/>
<polyline points="1205.0,251.0 1217.0,249.0 1228.6,248.6 1240.0,245.0 1252.1,241.6 1264.0,236.0 1275.7,229.8 1283.0,222.0 1287.0,214.0" fill="none" stroke="#000" stroke-width="1.2" stroke-linejoin="round" stroke-linecap="round"/>
<polyline points="1216.8,255.7 1214.0,265.0 1211.0,276.0 1208.5,286.3" fill="none" stroke="#000" stroke-width="1.2" stroke-linejoin="round" stroke-linecap="round"/>
<polyline points="1228.6,251.0 1226.0,262.0 1223.0,276.0 1220.3,291.0" fill="none" stroke="#000" stroke-width="1.2" stroke-linejoin="round" stroke-linecap="round"/>
<polyline points="1263.9,226.2 1258.0,240.0 1253.0,255.0 1249.8,267.5" fill="none" stroke="#000" stroke-width="1.2" stroke-linejoin="round" stroke-linecap="round"/>
<polyline points="1269.8,251.0 1282.0,246.0 1294.6,241.6" fill="none" stroke="#000" stroke-width="1.2" stroke-linejoin="round" stroke-linecap="round"/>
<polyline points="1285.1,235.7 1298.0,237.0 1311.1,239.2 1328.0,237.0 1345.0,235.7" fill="none" stroke="#000" stroke-width="1.2" stroke-linejoin="round" stroke-linecap="round"/>
<polyline points="1287.5,185.0 1289.8,199.1 1285.0,204.0" fill="none" stroke="#000" stroke-width="1.2" stroke-linejoin="round" stroke-linecap="round"/>
<polyline points="1236.8,192.1 1246.0,191.0 1256.8,189.7" fill="none" stroke="#000" stroke-width="1.2" stroke-linejoin="round" stroke-linecap="round"/>
<polyline points="1334.6,232.1 1340.0,227.0 1345.0,226.0" fill="none" stroke="#000" stroke-width="1.2" stroke-linejoin="round" stroke-linecap="round"/>
<polyline points="1293.4,260.4 1302.0,257.0 1311.1,255.7" fill="none" stroke="#000" stroke-width="1.2" stroke-linejoin="round" stroke-linecap="round"/>
<polyline points="1240.0,250.0 1232.0,262.0 1226.0,275.0 1222.0,283.0" fill="none" stroke="#000" stroke-width="1.2" stroke-linejoin="round" stroke-linecap="round"/>
<polyline points="1257.0,246.0 1250.0,256.0" fill="none" stroke="#000" stroke-width="1.2" stroke-linejoin="round" stroke-linecap="round"/>
<polyline points="1272.0,214.0 1276.0,223.0 1279.0,231.0" fill="none" stroke="#000" stroke-width="1.2" stroke-linejoin="round" stroke-linecap="round"/>
<polyline points="1285.0,216.0 1287.0,224.0" fill="none" stroke="#000" stroke-width="1.2" stroke-linejoin="round" stroke-linecap="round"/>
<polyline points="1261.0,250.0 1272.0,252.0 1282.0,256.0 1288.0,262.0" fill="none" stroke="#000" stroke-width="1.2" stroke-linejoin="round" stroke-linecap="round"/>
<polyline points="1300.0,200.0 1310.0,195.0 1322.0,191.0" fill="none" stroke="#000" stroke-width="1.2" stroke-linejoin="round" stroke-linecap="round"/>
<polyline points="1340.0,228.6 1352.0,225.0 1363.6,221.5 1372.0,218.5 1381.2,215.6" fill="none" stroke="#000" stroke-width="1.2" stroke-linejoin="round" stroke-linecap="round"/>
<polyline points="1340.0,235.7 1358.0,232.5 1375.4,229.8 1390.0,229.0 1403.6,228.6" fill="none" stroke="#000" stroke-width="1.2" stroke-linejoin="round" stroke-linecap="round"/>
<polyline points="1357.7,229.8 1378.0,226.0 1398.9,222.7 1418.0,220.5 1436.6,218.0" fill="none" stroke="#000" stroke-width="1.2" stroke-linejoin="round" stroke-linecap="round"/>
<polyline points="1351.8,202.7 1366.0,201.0 1381.2,199.1" fill="none" stroke="#000" stroke-width="1.2" stroke-linejoin="round" stroke-linecap="round"/>
<polyline points="1389.5,200.3 1410.7,198.0" fill="none" stroke="#000" stroke-width="1.2" stroke-linejoin="round" stroke-linecap="round"/>
<polyline points="1387.0,210.0 1389.5,220.0" fill="none" stroke="#000" stroke-width="1.2" stroke-linejoin="round" stroke-linecap="round"/>
<polyline points="1420.0,210.0 1425.0,220.0" fill="none" stroke="#000" stroke-width="1.2" stroke-linejoin="round" stroke-linecap="round"/>
<polyline points="1432.0,208.6 1436.6,218.0" fill="none" stroke="#000" stroke-width="1.2" stroke-linejoin="round" stroke-linecap="round"/>
<polyline points="1365.0,213.0 1370.0,218.0" fill="none" stroke="#000" stroke-width="1.2" stroke-linejoin="round" stroke-linecap="round"/>
<polyline points="1418.0,222.0 1420.0,226.0" fill="none" stroke="#000" stroke-width="1.2" stroke-linejoin="round" stroke-linecap="round"/>
<polyline points="1372.0,276.0 1380.0,276.0 1390.0,281.0" fill="none" stroke="#000" stroke-width="1.2" stroke-linejoin="round" stroke-linecap="round"/>
<polyline points="1382.0,272.0 1390.0,276.0 1398.0,280.0" fill="none" stroke="#000" stroke-width="1.2" stroke-linejoin="round" stroke-linecap="round"/>
<path d="M1033.3,65.1L1036.0,66.0L1037.7,68.1L1040.5,68.3M969.3,68.6L970.8,69.0L972.0,69.9L972.9,71.1M916.8,62.2L917.9,62.2L918.9,62.1L919.4,61.1M1062.8,83.3L1064.7,84.0L1066.6,84.2L1068.6,84.5M913.7,71.6L916.3,72.2L918.7,73.3L921.0,74.6M1005.1,88.4L1007.1,88.1L1009.0,87.2L1010.6,88.5M996.4,57.7L997.9,58.4L999.0,59.6L1000.5,60.3M1075.6,81.5L1077.9,81.5L1080.1,82.1L1082.2,81.4M921.8,73.1L924.6,74.0L927.2,75.5L928.3,78.2M1053.8,84.8L1055.8,86.6L1058.3,87.4L1060.9,88.2M902.3,63.7L904.1,64.6L906.2,65.1L908.2,65.6M990.5,71.9L991.7,72.7L993.2,73.2L994.4,74.0M985.9,69.5L987.0,69.4L987.8,70.0L988.8,69.8M1073.2,84.6L1074.1,86.4L1076.1,85.9L1078.1,85.5M1014.2,71.0L1016.1,72.7L1018.1,74.2L1020.7,74.1M1040.6,61.2L1043.2,61.7L1045.8,62.1L1048.4,61.7M919.1,63.9L919.6,62.7L920.9,62.5L921.9,61.5M942.7,67.2L944.4,68.0L946.3,67.6L948.1,67.1M1058.5,88.4L1059.6,89.9L1061.1,91.0L1062.5,92.2M1012.7,87.3L1014.3,87.9L1015.9,87.7L1017.6,87.9M1046.8,60.1L1048.5,59.2L1050.4,59.3L1052.4,59.0M1072.0,76.0L1074.2,76.3L1076.0,77.7L1078.2,78.3M1030.9,91.7L1032.1,91.4L1033.3,91.5L1034.5,91.4M881.7,56.4L882.6,57.6L883.7,58.6L885.0,59.4M1067.2,79.2L1067.2,81.5L1069.4,82.3L1070.1,84.5M938.1,60.1L940.7,59.5L943.0,58.4L945.2,59.8M1055.6,63.9L1057.5,62.6L1058.9,60.8L1061.2,60.9M1039.1,69.7L1041.8,70.1L1044.5,69.3L1047.1,69.9M1007.4,64.7L1010.2,64.2L1013.1,63.8L1015.2,61.9M1008.7,59.5L1009.9,60.0L1010.6,61.0L1011.8,61.5M916.7,66.1L918.1,67.5L920.0,67.9L921.8,67.3M934.3,58.5L935.4,59.1L936.5,59.8L937.3,60.8M1060.5,67.1L1063.1,66.4L1065.4,67.7L1067.7,66.4M1055.9,71.9L1056.9,72.5L1058.0,72.2L1059.2,72.5M1012.2,71.7L1013.9,72.9L1015.9,73.2L1017.7,74.1M1058.5,60.7L1059.9,62.8L1062.4,63.7L1061.7,66.3M1067.3,92.9L1068.5,94.3L1069.9,95.4L1071.3,96.6M1029.6,87.5L1031.2,88.3L1032.7,89.0L1033.0,90.8M984.8,72.4L987.1,73.2L989.0,74.8L991.4,75.2M952.6,61.2L955.3,62.5L958.2,62.9L960.0,65.3M1063.5,60.6L1066.4,59.8L1069.1,58.7L1072.1,58.7M1028.1,63.6L1029.3,64.4L1030.5,65.2L1031.9,65.5M966.6,57.6L967.1,60.3L966.0,62.8L967.3,65.2M919.3,60.6L920.6,62.1L922.2,63.3L924.2,62.9M972.7,63.3L973.9,64.3L975.0,65.3L976.4,66.0M1002.7,79.1L1003.5,81.6L1005.5,83.3L1007.8,84.5M1067.9,65.4L1068.8,66.4L1070.2,66.6L1071.3,67.5M996.8,58.0L998.7,58.2L1000.6,58.4L1002.4,57.7M1030.3,86.8L1030.6,89.2L1032.3,90.8L1033.2,93.0M1029.4,62.5L1031.5,61.8L1033.2,63.2L1035.3,63.8M979.0,59.1L981.1,58.7L983.3,58.5L985.2,57.6M1018.2,84.0L1020.0,84.5L1021.8,84.8L1023.0,83.4M1032.0,57.9L1031.3,58.7L1031.6,59.7L1031.5,60.7M1021.9,78.5L1022.1,79.7L1022.6,80.7L1023.7,81.2M1003.3,79.8L1005.3,79.1L1007.3,78.2L1009.5,78.4M913.2,75.4L915.6,75.6L917.1,77.4L919.5,78.1M1013.0,83.9L1015.2,84.1L1017.1,84.9L1019.2,85.2M976.8,70.2L978.2,69.1L979.8,69.8L981.4,69.1M1020.3,56.5L1023.0,56.2L1025.7,56.3L1028.4,56.9M1013.0,81.3L1014.2,81.8L1015.6,81.5L1016.9,82.0M965.1,71.7L965.5,74.6L966.3,77.4L966.9,80.2M1056.0,77.2L1057.0,76.8L1058.0,76.2L1059.1,76.6M1044.2,92.2L1046.5,93.4L1047.0,91.0L1049.6,91.2M913.9,69.2L915.9,67.7L918.3,66.7L920.3,68.2M964.6,57.8L966.1,57.7L967.6,57.9L969.1,58.0M925.7,76.4L926.9,78.4L927.5,80.5L929.6,81.4M935.7,66.5L937.5,66.9L939.3,66.5L940.9,67.3M900.5,69.5L902.5,69.5L904.3,70.0L906.3,70.4M1031.7,88.8L1032.8,87.8L1034.3,87.2L1035.7,86.9M900.2,61.2L901.8,61.0L903.3,61.3L904.9,61.4M905.9,67.1L907.1,66.6L908.3,67.2L909.6,67.8M1041.9,62.2L1044.4,63.5L1047.0,64.6L1049.6,65.4M1056.3,60.1L1057.4,59.9L1057.9,60.9L1058.9,61.1M999.3,85.0L1000.1,86.9L999.6,89.0L999.3,91.1M978.7,55.8L981.0,56.1L983.4,56.4L985.8,56.4M942.0,58.5L943.1,59.4L943.9,60.5L945.0,61.3M1013.5,93.4L1014.2,94.2L1015.2,94.2L1016.0,94.7M1038.3,85.9L1039.8,85.7L1041.3,85.2L1042.4,84.2M1048.1,58.8L1049.5,60.9L1051.9,61.8L1053.9,63.3M1004.2,88.3L1006.7,88.5L1008.9,89.4L1011.2,90.3M1072.3,87.1L1074.7,87.1L1077.0,86.0L1078.6,84.1M965.2,68.0L965.7,69.0L966.6,69.7L967.1,70.7M1063.9,67.3L1065.9,67.1L1067.7,68.1L1069.7,67.7M1052.0,94.0L1052.8,95.9L1054.6,96.8L1056.6,97.0M969.7,75.4L971.1,74.7L972.7,74.3L974.4,74.3M1070.3,81.1L1071.5,82.3L1073.0,82.8L1074.7,82.8M1039.0,79.8L1041.0,80.5L1042.8,81.8L1042.1,83.8M1041.9,61.1L1043.8,62.7L1045.8,64.1L1046.4,66.5M988.3,59.8L988.4,62.7L991.1,63.6L991.3,66.5M1061.3,57.0L1062.7,57.1L1063.5,58.2L1064.8,58.8M963.0,61.4L964.7,63.8L967.6,64.4L970.1,66.0M1009.6,77.9L1010.9,78.0L1012.2,78.1L1013.4,77.6M930.4,56.5L931.6,58.7L933.0,60.8L934.0,63.1M1063.0,69.0L1063.2,70.5L1063.0,71.9L1062.7,73.4M1066.6,61.6L1067.7,63.1L1067.8,65.1L1069.4,66.2M893.4,59.2L896.0,60.5L898.6,61.8L900.6,63.9M1025.3,85.5L1026.0,84.4L1027.0,83.5L1028.2,83.2M927.3,75.4L930.0,74.3L932.7,75.3L935.6,75.0M970.0,75.2L971.7,76.0L973.1,77.3L974.7,78.1M989.4,85.2L990.9,85.3L992.1,86.1L993.3,86.8M1030.2,71.8L1032.0,73.3L1034.0,74.3L1035.1,76.3M1029.3,68.3L1030.1,69.1L1031.2,69.3L1032.1,69.8M994.7,61.9L995.8,61.5L996.9,61.4L998.1,61.5M997.1,86.6L998.2,87.8L999.7,88.5L1000.4,90.0M941.3,58.2L944.0,59.2L945.5,61.6L948.2,62.5M1004.3,59.2L1005.3,59.5L1006.0,60.3L1006.5,61.2M1003.7,59.5L1006.5,59.9L1008.0,62.3L1008.1,65.1M1037.6,85.4L1039.8,85.8L1041.7,86.9L1043.3,88.4M1070.1,91.8L1071.7,93.0L1073.4,94.1L1075.4,94.4M1040.9,90.4L1041.8,91.4L1043.1,91.8L1043.5,93.1M955.7,69.0L956.1,70.0L957.1,69.9L957.6,70.8M1058.5,69.3L1060.8,70.9L1062.8,73.0L1065.5,74.1M976.9,74.6L979.7,75.2L981.7,77.3L984.4,76.4M1023.8,80.9L1026.4,80.8L1028.7,79.4L1031.3,79.0M984.1,57.6L985.5,59.5L987.1,61.1L989.1,62.3M984.3,72.2L985.8,72.7L986.7,74.0L988.0,74.9M1071.7,77.2L1074.2,78.2L1075.5,80.6L1077.7,82.2M1021.8,70.0L1024.6,69.8L1027.4,69.8L1030.3,69.6M950.8,70.8L951.4,72.2L952.8,71.9L953.6,73.2M1057.0,91.3L1059.8,92.0L1062.7,91.9L1065.1,93.7M1001.4,78.5L1001.7,80.5L1002.9,82.1L1004.2,83.7M1038.6,96.5L1039.6,96.8L1040.6,97.2L1041.6,97.1M993.3,74.0L994.3,75.1L995.2,76.1L996.4,76.8M1054.5,85.3L1054.8,84.1L1056.1,83.9L1057.1,83.1M1071.5,55.7L1072.9,55.5L1074.3,55.7L1075.6,55.3M938.2,59.9L940.4,58.5L943.0,58.9L945.6,58.6M1002.9,74.3L1003.4,76.0L1004.6,77.3L1004.7,79.1M1031.4,87.9L1034.2,86.8L1037.0,87.8L1038.9,90.0M1034.1,62.9L1036.3,63.9L1036.6,66.3L1038.2,68.2M968.7,67.8L970.3,67.7L972.0,67.8L973.2,68.8" stroke="#000" stroke-width="1.0" fill="none" stroke-linecap="round" stroke-linejoin="round"/>
<path d="M1002.1,78.4L1002.8,80.1L1002.5,82.0L1002.7,83.9M1045.4,92.4L1046.6,93.4L1047.3,94.7L1048.7,95.3M1067.3,85.1L1069.2,86.4L1071.3,87.3L1072.5,89.3M1032.8,63.3L1034.2,64.0L1034.9,65.3L1035.9,66.4M1000.8,82.5L1000.5,84.2L998.9,84.9L998.2,86.6M1068.8,90.8L1069.9,91.0L1070.8,91.7L1071.8,91.9M1022.6,82.4L1024.9,83.7L1026.1,85.9L1028.0,87.6M1063.1,80.6L1065.1,81.7L1066.3,83.6L1068.6,84.0M1033.9,94.8L1035.0,94.8L1036.0,95.2L1037.1,95.2M1044.1,97.9L1044.7,96.3L1046.2,95.7L1047.9,95.8M1034.6,92.0L1037.0,93.1L1039.5,93.8L1041.4,95.6M1065.5,83.2L1066.2,84.1L1067.2,84.6L1068.3,84.8M1035.3,62.4L1036.8,62.2L1038.2,62.1L1039.6,62.3M1035.1,78.2L1036.3,78.4L1037.4,78.1L1038.5,78.2M1017.5,80.9L1019.8,79.8L1022.3,79.4L1023.5,81.7M1054.4,69.6L1056.7,70.5L1058.6,72.0L1060.5,73.6M1053.6,96.4L1055.3,97.8L1055.9,99.9L1056.3,102.1M1007.2,73.5L1008.2,75.2L1009.6,76.5L1010.9,77.9M1025.8,71.1L1027.1,73.2L1029.3,74.6L1031.5,75.9M1045.0,85.9L1045.4,87.0L1046.4,87.5L1047.5,87.4M1049.9,83.5L1051.3,83.8L1052.4,83.0L1053.7,83.5M1010.1,74.6L1010.8,76.7L1011.4,78.8L1012.1,80.9M1033.7,79.5L1036.0,80.7L1038.6,81.5L1040.7,83.0M1034.3,74.8L1035.7,73.6L1036.9,72.2L1038.6,71.6M1032.1,69.6L1034.5,69.4L1036.7,68.4L1039.1,69.0M1025.5,80.9L1027.2,81.9L1028.3,83.7L1028.9,85.7M1050.6,91.2L1053.0,91.9L1053.9,94.1L1056.0,95.4M1037.7,86.3L1038.2,87.3L1039.0,88.0L1039.8,88.8M1022.4,85.3L1022.1,87.4L1021.5,89.4L1022.1,91.4M1014.5,88.2L1016.5,87.4L1018.5,88.5L1020.7,89.0M1047.1,96.6L1048.0,97.3L1048.8,97.9L1049.9,98.3M1027.1,70.8L1028.7,69.9L1030.6,69.8L1032.5,70.2M1027.5,86.1L1029.4,85.4L1031.4,85.8L1033.4,85.8M1036.9,66.5L1037.7,67.3L1038.4,68.1L1039.5,68.2M1004.6,83.7L1007.1,83.5L1008.4,85.6L1007.8,88.0M1005.7,70.7L1006.0,72.9L1008.1,73.5L1009.7,75.0M1007.5,81.9L1008.8,82.6L1010.3,82.9L1011.3,84.0M1020.0,92.2L1021.5,90.9L1023.2,89.8L1024.8,88.6M1048.9,66.5L1049.6,68.4L1049.0,70.3L1049.4,72.4M1032.4,91.3L1034.4,91.7L1036.2,90.5L1038.2,89.7M1029.0,89.0L1030.0,89.7L1031.0,89.2L1032.2,89.4M1063.0,97.6L1065.1,97.7L1067.0,98.4L1067.6,96.4M1057.2,87.0L1057.4,88.5L1058.1,89.8L1059.4,90.6M1022.8,63.7L1024.4,63.4L1025.9,63.9L1026.9,62.6M1051.8,99.3L1053.1,100.6L1053.8,102.3L1055.5,102.9M1067.0,78.9L1067.7,80.5L1069.2,81.4L1070.0,82.9M1021.2,70.1L1022.2,71.3L1023.6,72.0L1024.4,73.3M1075.2,93.7L1076.9,94.0L1078.6,94.3L1078.9,96.0M1024.6,74.5L1025.6,76.1L1027.2,77.2L1029.1,77.5M1041.4,63.9L1043.7,65.0L1045.9,66.4L1048.4,66.4M1049.5,76.8L1051.3,78.1L1052.9,79.5L1055.1,79.4M1039.9,76.7L1040.6,79.2L1042.5,81.1L1042.5,83.7M1015.2,61.4L1015.3,62.8L1016.1,64.0L1017.5,63.8M1053.3,70.6L1054.9,71.2L1056.1,72.5L1057.3,73.7M1002.2,68.9L1001.8,71.0L1003.3,72.5L1004.3,74.4M1010.8,70.3L1012.9,71.1L1014.7,72.6L1016.5,73.9M1020.4,91.5L1022.2,92.5L1023.2,94.2L1024.5,95.7M1066.9,71.7L1067.5,72.4L1068.3,73.0L1069.2,73.6M1026.0,91.2L1027.1,91.5L1028.1,91.9L1029.2,91.7M1033.0,65.1L1032.2,66.7L1032.7,68.4L1032.5,70.1M1015.4,59.7L1015.8,61.0L1015.9,62.3L1015.8,63.6M1039.8,75.9L1041.7,76.0L1041.7,77.9L1042.4,79.6M1022.4,58.1L1023.5,59.1L1025.0,58.8L1025.9,60.0M1066.7,78.0L1067.7,79.5L1067.5,81.3L1069.0,82.2M1058.9,92.8L1060.0,93.5L1061.2,93.9L1061.6,95.1M1055.8,86.1L1057.2,87.0L1058.8,87.1L1060.3,87.7M1002.5,70.6L1004.7,71.0L1006.2,72.6L1008.3,73.2M1066.1,84.0L1066.6,85.3L1067.2,86.6L1067.8,87.8M1009.2,66.3L1010.2,66.7L1010.9,67.6L1011.6,68.5M1027.5,71.3L1029.5,71.4L1030.7,73.1L1032.5,73.9" stroke="#000" stroke-width="1.2" fill="none" stroke-linecap="round" stroke-linejoin="round"/>
<path d="M782.8,179.0L782.5,180.6L783.2,182.1L784.6,183.2M788.0,171.8L789.0,171.4L789.4,170.5L790.3,170.2M770.5,183.8L771.6,182.5L772.8,181.3L773.2,179.6M770.9,172.6L772.2,172.5L773.5,172.4L774.5,173.2M786.4,180.8L787.3,180.3L788.2,180.4L789.2,180.5M771.7,190.7L772.5,190.1L773.5,189.9L774.6,189.8M776.2,174.4L776.8,176.0L776.9,177.7L777.7,179.2M770.3,191.4L771.6,191.8L772.9,191.2L774.3,191.0M793.4,172.5L794.5,172.2L795.7,172.0L796.8,171.7M789.0,184.2L789.8,184.7L790.2,185.6L791.0,186.2M781.2,188.2L782.2,188.3L783.0,187.7L783.9,188.3M771.2,178.0L772.0,178.3L772.8,178.0L773.7,177.8M774.0,189.2L775.6,188.7L777.3,188.8L778.6,189.7M784.7,180.0L785.1,181.6L786.8,182.1L788.5,182.4" stroke="#000" stroke-width="1.0" fill="none" stroke-linecap="round" stroke-linejoin="round"/>
<path d="M1133.6,89.5L1135.1,90.1L1136.4,89.2L1137.8,90.1M1086.0,72.5L1087.5,72.0L1089.1,71.8L1090.7,72.3M1189.4,91.5L1190.6,90.2L1192.1,91.2L1193.9,90.9M1152.5,78.7L1152.5,80.5L1152.4,82.3L1153.3,83.9M1084.4,88.5L1087.0,89.7L1088.8,92.0L1091.7,92.0M1071.1,82.7L1071.8,81.9L1072.7,82.3L1073.7,82.1M1166.3,86.5L1167.1,88.9L1169.4,90.1L1171.5,91.6M1156.8,84.9L1159.5,84.1L1161.8,85.9L1163.6,88.1M1163.1,74.7L1163.2,76.3L1163.1,77.9L1164.3,79.1M1076.0,84.1L1077.3,83.4L1078.3,84.4L1079.7,84.1M1186.8,67.2L1188.1,68.8L1187.9,70.9L1188.4,73.0M1103.7,79.8L1106.5,80.3L1108.7,82.0L1111.3,83.1M1138.6,78.9L1139.0,81.8L1141.2,83.8L1143.6,85.4M1182.9,126.2L1184.8,124.6L1187.0,123.7L1189.4,123.6M1100.0,62.1L1102.4,62.6L1104.8,62.3L1106.5,60.6M1104.6,79.8L1105.4,82.5L1107.9,83.7L1109.2,86.2M1186.8,85.4L1188.3,87.5L1190.8,88.1L1193.3,88.6M1175.0,109.4L1175.5,111.4L1174.6,113.2L1175.3,115.2M1144.4,65.7L1145.6,64.2L1147.4,63.9L1149.3,63.6M1192.2,85.2L1193.5,86.3L1194.1,87.8L1194.8,89.4M1129.8,103.3L1131.1,104.4L1131.7,106.0L1132.6,107.5M1129.2,102.3L1130.2,103.5L1130.8,104.9L1132.2,105.6M1204.7,97.4L1207.2,97.7L1209.6,96.9L1211.9,95.9M1159.8,106.2L1161.9,106.6L1163.4,108.1L1164.7,109.8M1111.5,94.7L1112.3,95.4L1113.4,95.6L1113.5,96.7M1104.2,80.8L1105.6,82.6L1107.0,84.4L1108.4,86.3M1174.4,109.0L1176.5,110.4L1179.1,110.5L1181.5,111.1M1087.9,69.1L1088.2,70.7L1089.1,72.1L1090.3,73.1M1175.6,118.0L1176.6,119.1L1177.7,120.3L1178.0,121.7M1140.3,86.2L1141.5,85.7L1142.4,86.8L1143.8,86.6M1123.3,60.4L1124.5,62.5L1126.5,63.8L1127.3,66.0M1109.8,99.8L1110.5,101.9L1111.4,103.9L1111.5,106.1M1186.3,56.6L1187.7,56.6L1189.0,56.5L1190.4,56.7M1111.8,103.8L1113.7,105.6L1114.4,108.0L1114.9,110.5M1087.1,60.5L1088.1,62.2L1089.5,63.7L1090.5,65.4M1143.0,113.9L1144.6,114.0L1145.6,115.3L1147.3,115.7M1153.2,101.5L1155.4,102.1L1157.6,102.4L1159.3,104.0M1119.9,61.4L1121.5,62.5L1123.2,63.5L1123.1,65.5M1113.8,98.3L1115.2,97.9L1116.6,97.9L1118.0,97.7M1148.3,85.6L1149.6,85.7L1150.5,84.6L1151.8,84.3M1180.0,111.7L1180.4,112.8L1180.9,113.8L1181.7,114.6M1190.6,72.9L1191.1,74.0L1191.1,75.2L1191.9,76.1M1177.3,97.5L1178.3,99.8L1178.9,102.2L1181.3,102.8M1086.2,77.9L1087.3,78.6L1088.5,78.9L1089.7,78.8M1121.9,88.1L1123.8,87.5L1125.8,87.1L1127.8,87.7M1185.5,110.3L1187.1,111.9L1187.1,114.2L1189.2,114.9M1179.0,58.9L1179.7,61.2L1180.7,63.4L1182.0,65.3M1117.0,97.8L1119.1,97.0L1120.9,95.6L1122.4,93.9M1189.1,118.1L1191.3,118.3L1193.3,117.6L1195.0,116.2M1116.2,97.2L1118.3,98.3L1120.6,98.7L1122.0,100.6" stroke="#000" stroke-width="1.0" fill="none" stroke-linecap="round" stroke-linejoin="round"/>
<path d="M1188.7,138.0L1189.6,138.7L1190.8,138.8L1191.6,139.7M1185.3,127.5L1186.8,129.2L1187.4,131.3L1189.4,132.5M1187.8,125.9L1189.1,126.8L1190.6,127.1L1191.2,128.4M1189.5,126.5L1190.8,127.6L1191.9,129.1L1192.4,130.7M1193.3,132.2L1194.2,133.0L1195.1,133.9L1195.6,135.1M1169.7,133.1L1170.1,134.3L1170.7,135.5L1171.9,134.9M1190.1,130.6L1190.9,131.5L1191.4,132.6L1192.1,133.5M1188.1,136.7L1190.0,137.5L1191.2,139.2L1193.3,139.0M1190.9,124.7L1190.8,126.1L1191.0,127.5L1190.4,128.8M1163.9,126.1L1165.0,126.3L1166.0,126.1L1166.9,126.5M1199.8,140.8L1202.0,142.0L1204.3,143.1L1206.7,143.8M1196.9,141.6L1197.9,142.1L1199.0,142.4L1199.8,143.1M1169.0,132.2L1171.0,132.2L1172.9,131.9L1174.1,133.4M1162.0,124.1L1162.5,125.0L1163.5,125.2L1164.4,125.6M1183.8,123.2L1186.1,122.6L1188.5,121.9L1190.5,123.1M1194.7,133.0L1196.0,133.8L1196.9,135.1L1197.9,136.3M1164.4,122.3L1165.2,123.1L1165.9,124.0L1166.4,125.0M1163.3,126.4L1162.4,128.6L1164.0,130.5L1164.3,132.8M1186.6,137.9L1186.5,140.3L1188.1,142.1L1189.2,144.3M1184.5,124.4L1186.4,125.2L1186.4,127.3L1188.4,127.7M1191.2,132.7L1194.1,133.1L1195.2,135.8L1196.4,138.5M1171.7,128.9L1172.7,129.2L1173.8,129.2L1174.8,129.6M1168.8,131.0L1170.0,131.9L1170.9,133.0L1171.6,134.3M1188.2,140.0L1189.3,140.3L1190.0,141.2L1191.0,141.9M1196.8,134.5L1197.9,135.2L1199.1,135.6L1200.3,136.1M1197.1,140.1L1198.4,141.1L1199.9,141.7L1201.4,142.2M1188.6,126.6L1189.0,129.1L1190.9,130.8L1191.0,133.4M1186.4,143.0L1187.2,143.6L1188.1,144.3L1189.0,144.9M1190.5,129.6L1191.9,130.2L1193.4,130.7L1194.9,131.1M1188.3,127.5L1189.0,128.9L1190.0,130.2L1190.5,131.7M1194.4,142.0L1195.3,144.3L1197.7,145.1L1200.1,145.9M1186.2,127.9L1187.9,128.6L1189.7,129.3L1191.7,129.5M1187.8,140.5L1188.7,141.8L1189.4,143.1L1189.0,144.5M1198.3,141.3L1199.9,142.2L1200.9,143.7L1202.1,145.0M1194.1,128.0L1195.4,128.6L1196.5,129.6L1197.9,130.1" stroke="#000" stroke-width="1.0" fill="none" stroke-linecap="round" stroke-linejoin="round"/>
<path d="M1327.4,137.4L1330.1,137.0L1332.5,138.1L1335.0,138.8M1241.4,148.8L1244.2,150.2L1247.3,150.9L1250.5,150.8M1224.3,139.8L1226.8,140.6L1229.4,140.7L1231.8,139.5M1321.7,151.7L1323.1,150.8L1324.7,150.4L1326.4,150.2M1317.8,123.5L1320.3,124.3L1323.0,124.3L1325.5,125.1M1318.1,137.3L1319.8,137.0L1321.5,136.8L1323.2,136.2M1309.3,164.0L1311.9,166.3L1314.9,164.7L1318.3,164.0M1314.5,133.7L1316.0,134.7L1317.7,134.4L1319.4,133.7M1298.3,166.3L1299.8,166.2L1300.9,165.3L1302.4,165.0M1334.0,165.0L1335.8,166.5L1337.8,167.8L1339.2,169.6M1264.9,148.1L1267.1,148.5L1269.3,148.7L1271.5,147.9M1291.0,161.4L1292.4,160.1L1292.5,158.1L1294.2,157.2M1290.1,174.4L1293.1,176.0L1296.5,175.2L1299.8,174.5M1235.2,165.8L1237.7,164.1L1240.7,164.5L1243.6,164.1M1207.9,114.6L1211.2,113.4L1214.1,111.3L1217.6,111.5M1329.8,179.6L1332.1,178.9L1334.2,179.8L1336.5,180.1M1232.4,175.9L1233.6,176.8L1235.1,177.2L1236.1,178.3M1327.8,177.7L1331.2,177.2L1334.4,178.2L1337.8,178.2M1237.0,157.9L1240.2,158.5L1243.4,157.9L1245.6,160.2M1325.5,157.7L1327.5,157.1L1328.6,155.4L1330.7,155.7M1307.8,189.8L1308.2,191.5L1309.7,192.3L1311.4,192.7M1269.3,152.9L1272.1,151.3L1273.6,148.5L1276.3,150.3M1313.4,151.9L1315.5,150.6L1317.9,150.1L1320.3,149.6M1258.1,140.9L1259.9,141.0L1261.2,139.8L1263.0,139.5M1250.4,143.8L1252.8,142.5L1255.6,142.8L1258.3,142.1M1214.4,137.7L1216.8,137.5L1218.7,136.1L1221.1,136.4M1330.4,140.0L1333.8,139.1L1337.3,138.7L1340.1,140.8M1237.7,149.1L1240.4,151.1L1242.7,153.7L1245.5,155.6M1289.8,171.4L1291.9,169.7L1294.2,168.0L1293.5,165.3M1344.7,133.1L1346.2,135.1L1348.6,135.5L1350.7,136.9M1250.0,142.3L1252.5,141.6L1254.9,142.7L1257.4,143.2M1307.8,145.5L1308.7,143.6L1310.6,142.8L1312.7,142.4M1210.4,179.9L1211.9,179.4L1213.2,180.4L1214.5,181.4M1226.2,139.5L1227.5,140.0L1228.7,139.4L1230.1,139.5M1319.2,126.6L1320.9,124.6L1323.4,124.0L1326.0,123.9M1332.5,134.1L1333.9,133.4L1335.5,132.9L1337.0,133.6M1222.1,130.6L1224.7,129.3L1225.5,132.2L1228.3,133.2M1299.2,165.4L1300.6,167.9L1303.4,168.2L1306.3,168.0M1234.7,168.0L1237.2,168.4L1239.7,167.9L1241.6,169.7M1297.5,142.8L1300.6,143.7L1303.6,144.8L1306.5,143.4M1301.9,188.3L1305.4,188.8L1308.7,189.3L1312.2,189.3M1217.7,145.3L1219.1,144.9L1220.3,144.1L1221.7,143.8M1257.1,144.9L1259.3,144.4L1261.6,144.2L1263.8,143.6M1243.8,123.1L1245.1,122.0L1246.1,120.6L1247.1,119.2M1300.2,130.8L1302.1,130.7L1303.6,129.5L1304.5,127.8M1284.5,125.0L1287.2,124.1L1289.6,122.6L1292.5,122.7M1269.9,182.4L1273.2,182.2L1275.7,180.1L1278.5,181.9M1300.3,146.8L1301.2,145.3L1302.1,143.8L1303.7,143.1M1311.0,161.6L1313.2,164.1L1316.4,165.3L1319.7,165.0M1237.0,156.8L1238.2,155.8L1238.9,154.5L1240.0,153.3M1266.8,174.8L1270.4,174.4L1273.9,173.5L1276.9,171.6M1287.2,186.2L1289.7,185.9L1292.3,185.9L1294.8,185.5M1242.9,125.3L1243.7,122.8L1244.9,120.4L1246.4,118.2M1338.4,133.9L1340.4,133.0L1342.7,133.2L1344.8,132.7M1267.5,158.7L1268.7,160.9L1269.7,163.3L1270.6,165.7M1241.5,117.4L1243.8,117.1L1246.1,116.5L1248.3,117.4M1283.7,157.8L1285.9,159.6L1288.7,158.8L1291.0,160.6M1268.2,171.4L1270.7,170.1L1273.3,171.0L1275.8,169.9M1214.8,141.1L1218.2,140.8L1221.4,141.5L1224.0,143.7M1235.5,156.9L1236.3,155.2L1237.4,153.7L1239.1,152.7M1283.3,158.9L1284.7,157.5L1286.6,156.8L1288.2,155.7M1253.6,121.5L1256.3,119.8L1257.8,116.9L1260.3,114.9M1235.4,182.8L1237.5,180.5L1239.9,178.4L1242.9,177.5M1330.5,176.1L1331.9,175.8L1333.3,175.4L1333.9,174.0M1300.3,139.4L1302.6,141.5L1305.7,142.2L1308.7,142.9M1265.9,165.4L1267.6,165.2L1269.2,165.6L1270.8,165.9M1266.5,175.1L1268.5,176.6L1270.7,177.7L1273.2,177.6M1299.5,155.1L1302.2,155.7L1303.3,153.2L1306.0,153.1M1214.1,136.4L1216.7,136.7L1218.9,138.2L1221.5,138.2M1335.4,160.4L1337.7,160.3L1339.9,160.6L1342.2,160.9" stroke="#000" stroke-width="1.0" fill="none" stroke-linecap="round" stroke-linejoin="round"/>
<path d="M1368.6,131.3L1370.7,131.1L1371.5,129.2L1373.1,127.9M1345.4,155.6L1346.2,153.4L1348.2,154.8L1348.0,152.4M1351.1,135.5L1352.0,138.2L1354.1,139.9L1354.5,142.7M1367.4,159.8L1370.1,160.0L1372.7,160.8L1375.3,159.8M1346.7,144.1L1347.7,141.5L1348.8,139.0L1350.6,136.9M1357.6,126.8L1358.6,126.2L1359.6,126.1L1360.4,125.4M1360.3,121.1L1361.7,123.1L1363.7,124.5L1366.1,124.9M1340.6,144.3L1342.4,144.7L1344.0,143.6L1345.6,142.7M1379.5,164.5L1380.8,163.8L1382.2,163.2L1383.5,162.4M1392.4,147.7L1393.0,146.7L1394.0,146.3L1394.8,145.5M1360.8,168.5L1363.2,168.3L1365.7,168.0L1368.0,167.4M1346.6,167.4L1348.4,167.4L1350.0,168.2L1351.5,169.1M1363.3,153.6L1364.6,153.9L1365.8,153.2L1366.9,152.6M1367.2,158.1L1368.2,156.6L1368.1,154.9L1367.6,153.1M1361.2,157.2L1362.5,155.2L1364.7,154.7L1366.9,153.7M1386.5,138.7L1387.5,137.5L1388.9,136.7L1390.1,137.6M1355.6,169.6L1357.1,169.8L1358.3,169.0L1359.6,169.5M1379.2,153.0L1380.5,152.8L1381.7,152.6L1382.8,152.0M1366.4,149.7L1367.4,149.1L1368.5,149.7L1369.6,149.2M1364.1,164.7L1365.9,165.0L1366.0,163.2L1367.8,163.1M1352.9,156.6L1355.1,158.1L1357.1,156.3L1359.7,155.8M1390.1,132.0L1391.4,131.6L1392.7,131.4L1394.0,130.9M1345.4,164.1L1347.6,165.0L1349.8,164.2L1351.4,162.4M1365.4,144.8L1366.4,144.9L1367.4,145.0L1368.3,144.8M1388.3,134.9L1389.6,133.0L1389.4,130.7L1388.9,128.5M1373.6,130.4L1375.6,132.1L1377.2,134.2L1378.6,136.3M1352.3,165.3L1353.6,165.9L1354.9,166.2L1356.0,165.4M1342.5,117.0L1343.2,116.2L1344.0,115.6L1345.0,115.3M1344.7,163.2L1343.3,165.6L1344.5,168.1L1346.2,170.3M1377.0,128.4L1379.7,128.2L1382.4,127.7L1384.7,129.1" stroke="#000" stroke-width="1.0" fill="none" stroke-linecap="round" stroke-linejoin="round"/>
<path d="M1407.2,192.8L1408.1,192.5L1408.7,193.2L1409.5,193.7M1407.2,199.5L1409.2,199.8L1411.2,200.0L1413.1,200.6M1403.4,197.8L1404.3,198.0L1405.3,197.9L1406.2,197.6M1410.3,194.5L1410.9,195.1L1410.5,195.7L1410.8,196.4M1402.3,200.2L1403.9,201.3L1405.8,201.7L1407.7,202.3M1409.7,191.9L1408.1,191.3L1407.2,192.9L1406.0,194.1M1419.3,191.5L1420.2,191.2L1421.2,190.9L1422.0,190.5M1424.0,198.5L1424.6,200.0L1425.1,201.7L1425.0,203.3M1428.8,199.4L1429.9,200.8L1430.7,202.3L1430.2,203.9M1410.3,196.0L1410.1,197.7L1410.2,199.3L1411.2,200.5M1396.4,189.7L1397.2,190.1L1398.1,189.9L1398.7,190.6M1411.6,196.4L1412.4,197.7L1413.5,198.8L1413.6,200.4M1401.5,190.3L1402.5,191.4L1403.8,192.0L1404.3,193.4M1417.4,199.0L1417.1,199.7L1416.8,200.4L1416.5,201.1M1411.0,192.2L1411.0,193.5L1411.2,194.8L1411.6,196.1M1428.9,199.2L1428.3,200.8L1427.3,202.1L1428.6,203.3M1424.2,190.6L1424.3,191.3L1423.9,191.9L1423.8,192.6M1410.4,194.2L1409.4,195.8L1407.6,196.5L1406.5,198.0M1418.2,190.6L1419.4,191.7L1420.6,192.8L1422.2,192.5M1409.2,191.2L1409.4,192.2L1408.7,193.0L1408.9,194.1M1423.5,195.9L1423.5,197.2L1424.1,198.4L1425.2,199.1M1429.2,193.5L1429.7,194.2L1430.0,194.9L1430.6,195.5M1414.8,190.8L1416.0,190.9L1417.2,190.8L1418.2,190.1M1406.6,190.2L1405.9,190.8L1405.0,190.9L1404.4,191.6M1407.4,197.5L1407.6,198.3L1407.9,199.1L1407.6,199.8M1417.9,192.2L1416.6,193.2L1416.6,194.8L1415.7,196.3M1408.0,196.1L1406.1,196.5L1404.6,197.8L1402.7,197.6M1421.7,200.4L1423.1,200.2L1424.5,200.3L1426.0,200.2M1421.2,192.3L1421.7,193.8L1422.5,195.2L1421.9,196.6M1419.4,190.4L1421.0,190.8L1422.6,191.1L1423.7,192.2M1417.4,197.5L1418.5,197.7L1419.6,198.0L1420.6,198.6M1423.2,198.3L1424.5,199.8L1424.5,201.8L1424.4,203.7M1420.9,200.6L1421.4,201.1L1421.5,201.8L1422.0,202.3M1426.2,192.9L1426.1,194.2L1426.7,195.5L1427.1,196.7M1413.1,199.2L1414.9,199.7L1416.7,199.5L1418.4,198.9" stroke="#000" stroke-width="1.0" fill="none" stroke-linecap="round" stroke-linejoin="round"/>
<path d="M1442.5,222.1L1443.9,220.8L1445.2,219.3L1447.0,218.7M1455.0,210.2L1453.2,209.9L1451.8,209.0L1450.1,209.5M1451.0,215.6L1449.4,214.9L1448.0,213.8L1446.5,213.0M1455.9,219.3L1456.1,220.3L1456.4,221.2L1456.3,222.2M1451.9,218.0L1452.3,219.5L1452.4,221.0L1453.0,222.3M1444.5,221.5L1443.2,222.5L1441.6,223.0L1440.3,223.9M1456.0,211.4L1456.3,212.0L1456.8,212.4L1456.9,213.1M1453.7,221.6L1454.3,223.1L1454.2,224.6L1455.4,225.8M1448.2,221.3L1448.1,222.0L1448.8,222.2L1448.9,222.9M1450.4,212.6L1450.1,211.3L1451.5,210.8L1451.5,209.4M1442.3,216.6L1443.2,216.0L1443.9,215.2L1444.8,214.7M1453.1,209.0L1453.2,210.4L1454.2,211.4L1455.2,212.3M1443.4,222.8L1442.7,223.7L1441.8,224.3L1441.0,225.1M1454.7,210.8L1455.8,212.3L1456.6,214.1L1456.5,215.9M1452.7,220.6L1454.6,220.7L1456.0,219.3L1456.0,217.4M1443.7,209.2L1443.3,209.9L1442.9,210.7L1442.1,210.9M1443.6,222.8L1445.4,222.6L1447.0,221.7L1448.8,221.8M1444.5,215.2L1445.6,215.6L1446.6,216.3L1447.7,216.6M1444.6,207.2L1444.2,207.9L1443.5,208.4L1442.9,209.0M1446.8,215.5L1446.5,216.5L1445.7,217.1L1444.7,217.3M1448.3,211.4L1448.9,212.0L1449.5,212.4L1450.2,212.7M1454.3,212.7L1454.0,213.9L1454.9,214.9L1454.5,216.1M1456.1,211.3L1456.7,212.9L1458.1,213.8L1458.9,215.3M1450.4,222.0L1450.9,223.4L1451.8,224.5L1452.3,225.8M1456.3,218.0L1456.6,219.6L1456.8,221.2L1457.3,222.7" stroke="#000" stroke-width="1.0" fill="none" stroke-linecap="round" stroke-linejoin="round"/>
<path d="M1154.7,257.2L1154.3,255.1L1152.5,253.9L1152.7,251.8M1180.9,249.9L1182.7,249.1L1182.9,247.2L1184.1,245.7M1191.2,275.5L1193.0,273.2L1195.6,272.0L1198.4,271.4M1097.6,281.1L1099.4,279.3L1101.7,278.1L1103.6,276.3M1095.6,288.6L1097.6,286.5L1100.4,285.7L1103.3,284.9M1207.2,288.1L1208.3,287.0L1208.8,285.5L1210.3,284.8M1123.8,296.5L1126.0,295.3L1127.7,293.5L1129.5,291.8M1138.1,258.9L1139.5,256.3L1141.8,254.4L1144.8,254.3M1159.1,309.5L1159.6,307.7L1160.7,306.2L1162.6,306.2M1179.6,268.5L1180.7,267.3L1182.2,266.7L1183.7,266.3M1151.0,268.3L1153.4,266.2L1156.1,264.7L1158.3,262.4M1097.7,272.0L1099.4,270.1L1100.3,267.7L1102.3,266.0M1134.0,267.1L1135.8,266.1L1136.9,267.9L1138.9,267.2M1127.6,300.3L1130.2,300.1L1132.7,299.1L1133.9,296.8M1182.8,277.9L1184.4,275.3L1185.9,272.7L1188.1,270.7M1086.3,284.2L1087.3,283.1L1088.2,281.9L1089.7,281.7M1086.4,267.6L1087.4,266.0L1087.4,264.1L1087.9,262.3M1152.5,253.5L1154.8,251.2L1157.3,249.1L1160.4,250.0M1159.5,296.6L1161.0,296.4L1162.3,295.8L1163.8,295.4M1097.4,269.4L1099.2,268.6L1100.9,267.6L1102.4,266.4M1075.9,322.8L1079.0,322.2L1082.0,321.0L1084.0,318.6M1197.8,277.1L1200.3,276.1L1202.5,277.7L1205.0,276.7M1133.4,303.8L1136.5,303.0L1136.3,299.8L1139.4,298.8M1108.7,300.6L1110.7,299.4L1112.8,298.5L1115.1,298.8M1150.7,277.9L1152.8,275.6L1154.3,272.8L1156.4,270.5M1156.0,265.6L1158.2,264.9L1159.7,263.2L1161.9,262.3M1203.0,258.2L1204.0,255.8L1203.1,253.4L1203.4,250.9M1167.6,315.9L1169.8,313.9L1172.5,312.7L1175.5,312.6M1094.4,319.4L1097.0,320.3L1099.7,320.3L1102.3,321.0M1207.6,249.7L1209.1,248.7L1210.8,248.7L1212.4,249.4M1098.3,290.2L1101.1,290.1L1103.7,288.8L1106.2,287.4M1139.2,272.9L1139.0,271.0L1140.6,269.9L1140.6,268.0M1136.2,253.7L1136.9,252.3L1138.0,251.3L1138.8,250.0M1137.3,259.3L1140.0,258.8L1142.0,256.9L1143.7,254.8M1140.6,269.2L1140.5,266.9L1142.4,265.7L1144.5,264.6M1100.9,271.9L1103.8,271.3L1106.8,271.7L1109.5,270.1M1185.7,263.9L1188.3,262.9L1190.8,261.8L1192.0,259.3M1099.4,273.7L1102.4,272.4L1105.3,270.9L1108.3,269.5M1202.0,248.6L1203.1,247.7L1204.5,247.7L1205.7,247.2M1120.5,296.1L1121.6,295.0L1122.7,294.0L1123.6,292.8M1097.8,287.4L1100.2,285.7L1101.5,283.0L1101.4,280.0M1151.9,247.9L1153.3,248.0L1154.7,248.0L1155.7,247.1M1091.0,311.7L1093.0,313.5L1095.6,313.5L1097.5,311.6M1116.2,265.2L1117.5,264.8L1118.8,264.4L1119.2,263.1M1082.2,307.7L1084.3,306.8L1085.5,305.0L1085.4,302.7" stroke="#000" stroke-width="1.0" fill="none" stroke-linecap="round" stroke-linejoin="round"/>
<path d="M871.9,209.1L874.5,208.8L877.0,208.0L879.5,208.8M807.6,189.9L810.2,190.3L812.6,189.6L815.2,189.3M880.8,195.6L882.4,196.9L884.5,196.7L886.2,197.9M877.6,212.2L878.7,213.4L880.2,214.3L881.4,215.4M850.0,197.5L852.2,197.3L854.3,197.8L856.5,197.7M886.1,192.8L888.0,194.3L889.8,196.0L892.3,195.9M898.9,253.9L900.3,253.4L901.9,253.3L903.3,253.6M854.1,212.1L854.4,214.1L855.9,215.3L857.4,216.7M926.1,205.8L928.3,205.7L930.4,204.9L932.6,205.5M874.3,201.4L876.0,202.4L877.1,204.1L878.9,203.5M852.2,229.4L853.7,230.1L855.2,230.5L856.6,229.6M821.6,211.5L821.8,213.3L823.0,214.8L823.7,216.5M879.7,236.9L881.6,236.6L883.5,236.5L884.9,237.7M914.1,203.0L916.0,203.5L917.3,205.0L919.3,205.1M845.7,238.3L847.3,239.8L848.9,241.4L850.7,242.5M832.7,203.5L833.4,202.1L834.7,203.0L836.3,202.5M837.2,227.8L838.7,229.2L838.4,231.2L840.1,232.2M922.7,227.4L923.8,227.8L925.0,227.8L926.3,227.9M923.0,230.9L924.1,230.3L924.8,231.3L925.6,232.2M864.3,231.8L865.8,230.5L867.7,229.6L869.7,229.4M835.9,230.1L836.6,231.0L837.7,231.4L838.6,232.1M863.8,238.0L865.3,239.4L866.5,241.1L867.9,242.8M930.8,229.0L931.4,230.3L931.2,231.6L931.7,232.9M914.7,219.4L915.7,221.4L917.6,222.5L918.8,224.2M841.4,195.6L843.4,195.4L845.3,196.0L847.1,196.8M902.9,193.4L904.0,193.4L904.9,192.8L906.0,192.8M902.7,217.1L904.1,217.5L905.5,217.4L906.9,217.4M804.0,195.6L805.5,194.6L807.2,194.1L808.9,193.6M911.9,194.5L914.1,194.6L916.4,194.7L918.5,195.4M873.9,226.4L875.8,227.6L878.0,228.4L880.1,229.3M807.1,227.1L808.8,227.1L810.4,226.6L811.9,226.0M939.9,236.2L941.0,235.8L942.2,236.1L943.0,237.1M895.7,238.1L896.6,239.4L898.1,240.1L899.7,240.7M802.2,209.7L803.4,209.1L804.2,210.1L804.3,211.4M808.8,206.7L810.1,205.9L811.5,206.2L812.9,205.7M918.5,238.3L920.0,236.3L920.8,233.9L922.3,232.0M836.2,200.5L837.3,201.1L838.5,200.9L839.6,200.7M835.2,188.6L836.1,189.6L836.1,190.9L837.0,191.9M824.6,222.1L826.0,221.4L827.2,220.6L828.7,220.5M847.6,237.8L849.8,238.9L852.0,238.0L854.4,238.6M850.7,221.6L851.8,221.0L853.1,221.2L854.2,220.7M831.4,218.9L833.1,219.0L833.2,220.7L834.6,221.6M810.9,200.9L813.3,200.3L815.0,202.0L817.3,202.7M902.5,223.0L904.8,224.0L907.1,224.6L909.6,224.4M809.3,212.8L810.1,212.3L811.1,212.5L812.0,212.9M932.3,222.7L933.1,220.2L934.8,218.2L936.9,216.7M923.4,195.0L924.9,195.0L926.3,195.1L926.4,196.6M884.2,253.2L885.5,253.9L886.4,255.1L886.8,256.5M832.4,212.6L833.1,213.7L833.5,214.9L834.7,215.4M817.2,215.2L818.1,217.1L817.0,219.0L818.8,220.1M843.2,216.3L844.6,218.3L847.1,218.0L849.6,218.1M897.6,202.4L899.5,201.6L901.7,201.4L903.5,202.4M822.9,221.0L824.1,220.8L824.8,221.8L825.9,222.4M920.1,239.4L921.3,238.1L923.1,238.0L924.9,237.7M870.4,195.3L871.4,196.3L872.6,197.2L874.0,196.7" stroke="#000" stroke-width="1.0" fill="none" stroke-linecap="round" stroke-linejoin="round"/>
<path d="M671.6,147.0L673.1,148.0L674.9,147.9L676.6,147.3M673.0,138.5L675.4,138.1L677.9,137.6L678.4,135.2M671.2,139.8L672.7,137.5L674.5,135.5L677.2,135.6M671.6,143.9L673.0,143.6L674.5,144.1L675.9,143.5M670.6,156.9L673.3,158.3L674.5,161.0L677.4,161.3M667.1,132.3L668.4,131.7L669.7,132.0L671.0,132.4M707.7,137.4L710.2,138.1L711.9,140.1L713.4,142.2M688.7,158.8L690.1,157.5L691.9,157.6L693.7,157.2M701.7,140.0L704.2,139.1L706.6,140.2L709.3,140.0M681.6,132.5L682.8,132.7L684.1,132.9L685.1,133.6M708.9,156.4L710.0,157.8L710.9,159.3L712.3,160.4M668.8,150.1L670.6,151.4L672.6,151.9L674.2,153.3M670.4,140.9L671.8,140.6L673.0,141.5L674.5,141.4M681.2,162.3L682.0,163.1L682.8,163.9L683.8,164.3M668.5,131.0L669.5,131.7L670.7,132.1L671.8,132.8" stroke="#000" stroke-width="1.0" fill="none" stroke-linecap="round" stroke-linejoin="round"/>
<path d="M987.2,209.4L990.1,209.2L992.9,209.8L995.8,209.6M955.2,210.1L957.3,211.0L959.6,210.8L961.7,210.1M957.6,211.1L958.5,213.1L959.2,215.1L961.1,216.2M959.6,219.0L960.8,219.2L961.8,219.8L962.7,220.5M954.9,209.9L956.4,209.3L958.0,209.7L959.5,210.0M954.1,230.0L956.7,229.8L958.1,227.5L960.3,226.1M938.3,202.4L939.6,203.3L941.0,203.9L942.3,204.8M947.2,218.9L949.8,219.5L950.8,222.0L952.6,224.1M937.2,229.6L938.7,230.2L940.3,230.1L941.8,230.9M939.4,216.1L942.3,216.9L945.2,216.3L948.0,217.3M962.2,231.0L963.9,230.4L965.7,229.7L967.5,229.6M958.0,202.8L959.5,202.9L961.0,203.2L962.4,202.7" stroke="#000" stroke-width="1.0" fill="none" stroke-linecap="round" stroke-linejoin="round"/>
<path d="M975.5,291.6L977.6,292.8L980.0,293.4L982.4,293.9M1056.1,296.3L1057.9,296.9L1059.8,297.1L1060.9,298.6M1053.3,290.8L1054.4,291.9L1055.8,291.3L1057.2,291.8M1023.2,297.8L1025.6,298.7L1028.1,299.3L1029.6,301.5M1033.5,280.2L1035.3,280.5L1035.8,282.4L1037.7,282.3M1034.2,280.1L1036.6,280.6L1038.6,279.3L1040.8,278.2M1053.7,282.3L1055.3,284.0L1057.5,284.2L1059.8,284.4M1036.3,296.3L1038.7,295.4L1041.2,294.8L1043.7,294.0M994.7,290.6L996.8,289.9L999.0,290.1L1001.3,289.8M1045.5,295.4L1046.5,295.6L1047.4,296.0L1048.2,295.4M992.9,291.8L994.7,290.9L996.8,290.9L998.8,291.3M1005.0,285.1L1005.7,286.8L1007.2,287.8L1009.0,287.7M1032.3,298.4L1034.7,298.8L1036.9,299.7L1039.1,298.7M1064.6,299.4L1064.9,301.4L1066.8,302.2L1068.8,302.7M1040.7,295.4L1041.8,295.5L1043.0,295.6L1043.8,294.7M972.0,292.8L974.2,293.8L976.4,294.8L978.7,294.2M988.0,288.1L990.2,288.6L992.4,289.3L994.3,288.0M1040.1,290.0L1041.1,290.3L1041.9,289.5L1043.0,289.5M963.0,279.2L963.9,280.2L965.2,280.0L966.5,279.6M976.3,289.6L977.8,290.9L979.7,290.6L981.2,289.3" stroke="#000" stroke-width="1.0" fill="none" stroke-linecap="round" stroke-linejoin="round"/>
<path d="M1357.7,203.4L1358.4,204.9L1360.1,205.2L1361.7,205.8M1391.7,197.5L1393.1,196.9L1394.0,195.7L1395.5,196.0M1383.5,208.2L1384.8,208.4L1386.0,208.6L1387.2,208.4M1438.8,229.5L1439.9,228.4L1441.4,227.8L1443.0,227.5M1375.6,226.5L1374.1,224.7L1375.5,222.9L1375.2,220.6M1432.2,227.3L1433.8,227.8L1435.1,226.8L1436.4,228.0M1436.1,199.8L1437.3,200.3L1438.3,201.2L1439.5,202.0M1397.0,218.2L1398.1,218.1L1399.0,217.6L1400.0,217.9M1371.6,219.1L1373.1,219.0L1373.5,220.5L1374.5,221.7M1358.1,192.2L1359.7,190.5L1361.0,188.6L1361.7,186.4M1353.3,227.7L1354.5,227.8L1355.6,227.4L1356.4,226.6M1434.9,198.7L1436.2,199.2L1437.0,200.4L1438.4,200.5M1433.9,230.8L1435.9,231.0L1437.7,231.6L1439.6,231.1M1408.3,222.7L1407.8,223.8L1407.9,225.1L1407.0,225.9M1390.4,217.7L1392.1,219.0L1394.0,219.9L1396.1,219.3" stroke="#000" stroke-width="1.0" fill="none" stroke-linecap="round" stroke-linejoin="round"/>
<polygon points="759.0,176.5 766.0,175.5 772.0,177.0 776.0,181.0 770.0,183.0 762.0,182.0" fill="#bfbfbf" stroke="#000" stroke-width="1.3" stroke-linejoin="round"/>
<polygon points="885.2,57.0 893.0,56.1 900.0,58.0 902.3,63.0 898.0,66.4 890.0,65.0 886.0,61.0" fill="#bfbfbf" stroke="#000" stroke-width="1.3" stroke-linejoin="round"/>
<polygon points="993.5,71.0 997.0,67.5 1001.5,68.5 1003.0,73.0 1000.0,78.9 995.5,78.0 993.0,75.0" fill="#bfbfbf" stroke="#000" stroke-width="1.3" stroke-linejoin="round"/>
<polygon points="1390.0,175.0 1394.0,171.5 1404.0,170.3 1420.0,170.5 1427.0,172.5 1428.6,178.0 1426.0,184.0 1418.0,187.2 1408.0,185.5 1398.0,184.5 1391.0,181.0" fill="#bfbfbf" stroke="#000" stroke-width="1.3" stroke-linejoin="round"/>
<polygon points="1025.0,156.0 1026.3,152.5 1027.6,156.0 1026.3,159.5" fill="#555" stroke="#000" stroke-width="0.8" stroke-linejoin="round"/>
<g fill="#fbeaea"><circle cx="790.0" cy="205.5" r="4.7"/><circle cx="795.6" cy="206.7" r="4.7"/><circle cx="801.2" cy="207.9" r="4.7"/><circle cx="806.8" cy="209.1" r="4.7"/><circle cx="812.4" cy="210.2" r="4.7"/><circle cx="817.9" cy="211.4" r="4.7"/><circle cx="823.5" cy="212.6" r="4.7"/><circle cx="829.1" cy="213.8" r="4.7"/><circle cx="834.7" cy="215.0" r="4.7"/></g>
<g fill="#2aee1a"><circle cx="714.7" cy="157.3" r="4.7"/><circle cx="735.8" cy="160.7" r="4.7"/><circle cx="741.4" cy="161.6" r="4.7"/><circle cx="746.9" cy="162.6" r="4.7"/><circle cx="752.5" cy="163.5" r="4.7"/><circle cx="758.0" cy="164.5" r="4.7"/><circle cx="763.6" cy="165.4" r="4.7"/><circle cx="769.1" cy="166.4" r="4.7"/><circle cx="774.7" cy="167.3" r="4.7"/><circle cx="780.2" cy="168.3" r="4.7"/><circle cx="785.8" cy="169.2" r="4.7"/></g>
<g fill="#ff22ff"><circle cx="700.0" cy="170.8" r="4.7"/><circle cx="705.9" cy="172.8" r="4.7"/><circle cx="711.8" cy="174.8" r="4.7"/><circle cx="717.7" cy="176.8" r="4.7"/><circle cx="723.6" cy="178.8" r="4.7"/><circle cx="729.5" cy="180.8" r="4.7"/><circle cx="735.4" cy="182.8" r="4.7"/><circle cx="741.3" cy="184.8" r="4.7"/><circle cx="747.1" cy="186.9" r="4.7"/><circle cx="753.0" cy="188.9" r="4.7"/><circle cx="758.9" cy="190.9" r="4.7"/><circle cx="764.8" cy="192.9" r="4.7"/><circle cx="770.7" cy="194.9" r="4.7"/><circle cx="776.6" cy="196.9" r="4.7"/><circle cx="782.5" cy="198.9" r="4.7"/><circle cx="788.4" cy="200.9" r="4.7"/></g>
<g fill="#a85c4a"><circle cx="802.9" cy="174.9" r="4.7"/></g>
<g fill="#0000ff"><circle cx="815.5" cy="183.5" r="4.7"/></g>
<g fill="#fcd86c"><circle cx="828.3" cy="189.7" r="4.7"/><circle cx="840.0" cy="195.6" r="4.7"/><circle cx="844.7" cy="198.4" r="4.7"/><circle cx="849.5" cy="201.1" r="4.7"/><circle cx="854.2" cy="203.9" r="4.7"/></g>
<g fill="#00ffff"><circle cx="867.2" cy="209.5" r="4.7"/></g>
<g fill="#006400"><circle cx="890.5" cy="208.2" r="4.7"/><circle cx="897.2" cy="208.8" r="4.7"/><circle cx="910.8" cy="213.3" r="4.7"/><circle cx="915.5" cy="215.3" r="4.7"/><circle cx="920.2" cy="217.2" r="4.7"/><circle cx="924.9" cy="219.2" r="4.7"/></g>
<g fill="#f7006c"><circle cx="736.0" cy="220.5" r="4.7"/><circle cx="741.5" cy="221.6" r="4.7"/><circle cx="747.0" cy="222.7" r="4.7"/><circle cx="752.5" cy="223.8" r="4.7"/><circle cx="758.0" cy="224.8" r="4.7"/><circle cx="763.6" cy="225.9" r="4.7"/><circle cx="769.1" cy="227.0" r="4.7"/><circle cx="774.6" cy="228.1" r="4.7"/><circle cx="780.1" cy="229.2" r="4.7"/><circle cx="800.8" cy="232.0" r="4.7"/><circle cx="821.8" cy="235.7" r="4.7"/><circle cx="827.3" cy="237.1" r="4.7"/><circle cx="832.8" cy="238.4" r="4.7"/><circle cx="838.3" cy="239.8" r="4.7"/><circle cx="843.8" cy="241.2" r="4.7"/></g>
<g fill="#88f898"><circle cx="863.6" cy="245.7" r="4.7"/><circle cx="876.6" cy="249.2" r="4.7"/><circle cx="882.1" cy="250.0" r="4.7"/><circle cx="887.6" cy="250.8" r="4.7"/><circle cx="893.1" cy="251.6" r="4.7"/><circle cx="913.1" cy="252.8" r="4.7"/><circle cx="917.2" cy="252.8" r="4.7"/><circle cx="921.4" cy="252.8" r="4.7"/><circle cx="933.0" cy="252.2" r="4.7"/><circle cx="938.1" cy="252.1" r="4.7"/><circle cx="943.2" cy="252.0" r="4.7"/><circle cx="948.4" cy="251.8" r="4.7"/><circle cx="953.5" cy="251.7" r="4.7"/><circle cx="958.6" cy="251.6" r="4.7"/></g>
<g fill="#8466f5"><circle cx="961.0" cy="252.2" r="4.7"/><circle cx="966.7" cy="252.5" r="4.7"/><circle cx="972.4" cy="252.7" r="4.7"/><circle cx="978.1" cy="253.0" r="4.7"/><circle cx="983.8" cy="253.2" r="4.7"/><circle cx="989.4" cy="253.5" r="4.7"/><circle cx="995.1" cy="253.8" r="4.7"/><circle cx="1000.8" cy="254.0" r="4.7"/><circle cx="1006.5" cy="254.3" r="4.7"/><circle cx="1012.2" cy="254.5" r="4.7"/><circle cx="1017.9" cy="254.8" r="4.7"/><circle cx="1023.6" cy="255.1" r="4.7"/><circle cx="1029.3" cy="255.3" r="4.7"/><circle cx="1035.0" cy="255.6" r="4.7"/><circle cx="1040.6" cy="255.9" r="4.7"/><circle cx="1046.3" cy="256.1" r="4.7"/><circle cx="1052.0" cy="256.4" r="4.7"/><circle cx="1057.7" cy="256.6" r="4.7"/><circle cx="1063.4" cy="256.9" r="4.7"/></g>
<g fill="#ff0000"><circle cx="883.5" cy="218.8" r="4.7"/><circle cx="889.0" cy="220.3" r="4.7"/><circle cx="894.4" cy="221.8" r="4.7"/><circle cx="899.9" cy="223.3" r="4.7"/><circle cx="905.3" cy="224.8" r="4.7"/><circle cx="910.8" cy="226.2" r="4.7"/><circle cx="916.3" cy="227.7" r="4.7"/><circle cx="921.7" cy="229.2" r="4.7"/><circle cx="927.2" cy="230.7" r="4.7"/><circle cx="932.6" cy="232.2" r="4.7"/><circle cx="938.1" cy="233.7" r="4.7"/><circle cx="943.6" cy="235.2" r="4.7"/><circle cx="949.0" cy="236.7" r="4.7"/><circle cx="954.5" cy="238.2" r="4.7"/><circle cx="959.9" cy="239.7" r="4.7"/><circle cx="965.4" cy="241.2" r="4.7"/><circle cx="970.9" cy="242.6" r="4.7"/><circle cx="976.3" cy="244.1" r="4.7"/><circle cx="981.8" cy="245.6" r="4.7"/><circle cx="987.2" cy="247.1" r="4.7"/><circle cx="992.7" cy="248.6" r="4.7"/></g>
<g fill="#000070"><circle cx="850.7" cy="222.1" r="4.7"/><circle cx="856.2" cy="223.3" r="4.7"/><circle cx="861.7" cy="224.5" r="4.7"/><circle cx="867.2" cy="225.6" r="4.7"/><circle cx="872.7" cy="226.8" r="4.7"/><circle cx="878.2" cy="228.0" r="4.7"/><circle cx="883.7" cy="229.2" r="4.7"/><circle cx="889.2" cy="230.3" r="4.7"/><circle cx="894.7" cy="231.5" r="4.7"/><circle cx="900.2" cy="232.7" r="4.7"/></g>
<g fill="#578a7c"><circle cx="1067.4" cy="258.6" r="4.7"/><circle cx="1072.8" cy="259.2" r="4.7"/><circle cx="1078.1" cy="259.8" r="4.7"/><circle cx="1083.5" cy="260.4" r="4.7"/><circle cx="1088.9" cy="261.1" r="4.7"/><circle cx="1094.2" cy="261.7" r="4.7"/><circle cx="1099.6" cy="262.2" r="4.7"/><circle cx="1105.0" cy="262.8" r="4.7"/><circle cx="1110.3" cy="263.3" r="4.7"/><circle cx="1115.7" cy="263.9" r="4.7"/><circle cx="1121.1" cy="264.0" r="4.7"/><circle cx="1126.5" cy="264.0" r="4.7"/><circle cx="1131.9" cy="264.0" r="4.7"/><circle cx="1137.3" cy="264.0" r="4.7"/><circle cx="1142.7" cy="263.6" r="4.7"/><circle cx="1147.9" cy="262.4" r="4.7"/><circle cx="1153.2" cy="261.2" r="4.7"/><circle cx="1158.5" cy="260.0" r="4.7"/><circle cx="1163.6" cy="258.4" r="4.7"/><circle cx="1168.4" cy="255.9" r="4.7"/><circle cx="1173.2" cy="253.5" r="4.7"/><circle cx="1177.6" cy="250.4" r="4.7"/></g>
<g fill="#f98fe6"><circle cx="1185.0" cy="245.0" r="4.7"/><circle cx="1185.8" cy="239.7" r="4.7"/><circle cx="1186.5" cy="234.3" r="4.7"/><circle cx="1187.3" cy="229.0" r="4.7"/><circle cx="1188.1" cy="223.6" r="4.7"/><circle cx="1189.2" cy="218.3" r="4.7"/><circle cx="1190.4" cy="213.1" r="4.7"/><circle cx="1191.5" cy="207.8" r="4.7"/><circle cx="1192.6" cy="202.5" r="4.7"/><circle cx="1193.5" cy="197.2" r="4.7"/><circle cx="1194.5" cy="191.9" r="4.7"/><circle cx="1195.4" cy="186.5" r="4.7"/><circle cx="1196.4" cy="181.2" r="4.7"/><circle cx="1197.7" cy="176.0" r="4.7"/><circle cx="1199.0" cy="170.7" r="4.7"/><circle cx="1200.2" cy="165.5" r="4.7"/><circle cx="1201.7" cy="160.3" r="4.7"/><circle cx="1203.2" cy="155.1" r="4.7"/><circle cx="1204.8" cy="150.0" r="4.7"/><circle cx="1206.6" cy="144.9" r="4.7"/><circle cx="1208.9" cy="140.0" r="4.7"/><circle cx="1211.3" cy="135.2" r="4.7"/><circle cx="1213.8" cy="130.4" r="4.7"/><circle cx="1216.4" cy="125.7" r="4.7"/><circle cx="1219.0" cy="120.9" r="4.7"/><circle cx="1222.4" cy="116.7" r="4.7"/><circle cx="1225.8" cy="112.5" r="4.7"/><circle cx="1229.3" cy="108.4" r="4.7"/><circle cx="1232.9" cy="104.4" r="4.7"/><circle cx="1236.7" cy="100.6" r="4.7"/><circle cx="1241.0" cy="97.2" r="4.7"/><circle cx="1245.2" cy="93.9" r="4.7"/></g>
<g fill="#6a0042"><circle cx="1189.0" cy="244.4" r="4.7"/><circle cx="1194.0" cy="242.4" r="4.7"/><circle cx="1199.0" cy="240.3" r="4.7"/><circle cx="1204.0" cy="238.3" r="4.7"/><circle cx="1209.0" cy="236.2" r="4.7"/><circle cx="1214.0" cy="234.2" r="4.7"/><circle cx="1219.0" cy="232.1" r="4.7"/><circle cx="1224.0" cy="230.1" r="4.7"/><circle cx="1229.0" cy="228.0" r="4.7"/><circle cx="1234.0" cy="226.0" r="4.7"/><circle cx="1239.0" cy="223.9" r="4.7"/><circle cx="1244.0" cy="221.9" r="4.7"/><circle cx="1249.0" cy="219.8" r="4.7"/><circle cx="1254.0" cy="217.8" r="4.7"/><circle cx="1258.9" cy="215.7" r="4.7"/><circle cx="1263.9" cy="213.7" r="4.7"/></g>
<g fill="#e6ff14"><circle cx="1269.4" cy="210.3" r="4.7"/><circle cx="1274.6" cy="208.9" r="4.7"/><circle cx="1279.8" cy="207.5" r="4.7"/><circle cx="1285.0" cy="206.0" r="4.7"/><circle cx="1290.2" cy="204.6" r="4.7"/><circle cx="1295.4" cy="203.2" r="4.7"/><circle cx="1300.1" cy="200.4" r="4.7"/><circle cx="1304.7" cy="197.6" r="4.7"/><circle cx="1309.3" cy="194.8" r="4.7"/><circle cx="1313.9" cy="192.0" r="4.7"/><circle cx="1318.6" cy="189.3" r="4.7"/><circle cx="1323.4" cy="186.8" r="4.7"/><circle cx="1328.2" cy="184.4" r="4.7"/><circle cx="1333.1" cy="182.0" r="4.7"/><circle cx="1337.9" cy="179.6" r="4.7"/><circle cx="1342.8" cy="177.3" r="4.7"/><circle cx="1348.1" cy="176.4" r="4.7"/><circle cx="1353.4" cy="175.6" r="4.7"/><circle cx="1358.8" cy="174.8" r="4.7"/><circle cx="1364.1" cy="174.0" r="4.7"/><circle cx="1369.5" cy="173.7" r="4.7"/><circle cx="1374.9" cy="173.7" r="4.7"/><circle cx="1380.3" cy="173.7" r="4.7"/><circle cx="1385.7" cy="173.7" r="4.7"/><circle cx="1391.1" cy="173.7" r="4.7"/><circle cx="1396.5" cy="173.7" r="4.7"/><circle cx="1401.9" cy="173.7" r="4.7"/><circle cx="1407.3" cy="173.7" r="4.7"/><circle cx="1412.7" cy="173.7" r="4.7"/></g>
<g fill="#735f00"><circle cx="1274.0" cy="212.8" r="4.7"/><circle cx="1279.5" cy="212.7" r="4.7"/><circle cx="1285.0" cy="212.5" r="4.7"/><circle cx="1290.5" cy="212.4" r="4.7"/><circle cx="1296.0" cy="212.3" r="4.7"/><circle cx="1301.5" cy="212.1" r="4.7"/><circle cx="1307.0" cy="212.0" r="4.7"/><circle cx="1312.5" cy="211.9" r="4.7"/><circle cx="1318.0" cy="211.7" r="4.7"/><circle cx="1323.5" cy="211.6" r="4.7"/><circle cx="1329.0" cy="211.5" r="4.7"/><circle cx="1334.5" cy="211.3" r="4.7"/><circle cx="1340.0" cy="211.2" r="4.7"/><circle cx="1354.3" cy="207.9" r="4.7"/><circle cx="1359.8" cy="207.5" r="4.7"/><circle cx="1365.3" cy="207.1" r="4.7"/><circle cx="1370.8" cy="206.7" r="4.7"/><circle cx="1376.3" cy="206.3" r="4.7"/><circle cx="1381.8" cy="206.0" r="4.7"/><circle cx="1387.3" cy="205.6" r="4.7"/><circle cx="1392.8" cy="205.2" r="4.7"/><circle cx="1398.3" cy="204.8" r="4.7"/><circle cx="1403.8" cy="204.4" r="4.7"/><circle cx="1417.0" cy="204.4" r="4.7"/></g>
<g fill="#b4009f"><circle cx="1433.1" cy="196.2" r="4.7"/><circle cx="1440.2" cy="195.6" r="4.7"/></g>
<g fill="#1487d0"><circle cx="1447.2" cy="189.7" r="4.7"/><circle cx="1453.1" cy="190.4" r="4.7"/><circle cx="1459.0" cy="191.1" r="4.7"/><circle cx="1464.9" cy="191.8" r="4.7"/><circle cx="1470.8" cy="192.5" r="4.7"/><circle cx="1476.7" cy="193.2" r="4.7"/></g>
<g fill="#ff870f"><circle cx="870.1" cy="255.7" r="4.7"/><circle cx="889.0" cy="265.1" r="4.7"/></g>
</g>
<rect x="667.4" y="55.2" width="825.6" height="267.8" fill="none" stroke="#111" stroke-width="1.6"/>
</g>
<g id="legend">
<rect x="774.0" y="330.0" width="705.0" height="468.79999999999995" rx="5" ry="5" fill="#fff" fill-opacity="0.8" stroke="#cccccc" stroke-opacity="0.8" stroke-width="1.4"/>
<circle cx="813.0" cy="354.5" r="11.1" fill="#008000"/>
<text transform="translate(863.29,363.20) scale(1.0791,1)" font-size="30.56">Bartlett Springs</text>
<circle cx="813.0" cy="396.6" r="11.1" fill="#0000ff"/>
<text transform="translate(863.44,405.27) scale(1.0191,1)" font-size="30.56">Berryessa</text>
<circle cx="813.0" cy="438.6" r="11.1" fill="#ff0000"/>
<text transform="translate(863.20,447.34) scale(1.0340,1)" font-size="30.56">Calaveras</text>
<circle cx="813.0" cy="480.7" r="11.1" fill="#00ffff"/>
<text transform="translate(863.22,489.41) scale(1.0253,1)" font-size="30.56">Concord</text>
<circle cx="813.0" cy="522.8" r="11.1" fill="#f98fe6"/>
<text transform="translate(863.19,531.48) scale(1.0424,1)" font-size="30.56">Garlock</text>
<circle cx="813.0" cy="564.9" r="11.1" fill="#fcd86c"/>
<text transform="translate(863.19,573.55) scale(1.0401,1)" font-size="30.56">Green Valley</text>
<circle cx="813.0" cy="606.9" r="11.1" fill="#006400"/>
<text transform="translate(863.16,615.62) scale(1.0599,1)" font-size="30.56">Greenville</text>
<circle cx="813.0" cy="649.0" r="11.1" fill="#000070"/>
<text transform="translate(863.36,657.69) scale(1.0477,1)" font-size="30.56">Hayward</text>
<circle cx="813.0" cy="691.1" r="11.1" fill="#a85c4a"/>
<text transform="translate(863.34,699.76) scale(1.0556,1)" font-size="30.56">Hunting Creek</text>
<circle cx="813.0" cy="733.1" r="11.1" fill="#1487d0"/>
<text transform="translate(862.94,741.83) scale(1.0832,1)" font-size="30.56">Imperial</text>
<circle cx="813.0" cy="775.2" r="11.1" fill="#ff10ff"/>
<text transform="translate(863.44,783.90) scale(1.0167,1)" font-size="30.56">Maacama</text>
<circle cx="1174.6" cy="354.5" r="11.1" fill="#fbeaea"/>
<text transform="translate(1225.04,363.20) scale(1.0198,1)" font-size="30.56">Rodgers Creek</text>
<circle cx="1174.6" cy="396.6" r="11.1" fill="#f7006c"/>
<text transform="translate(1225.25,405.27) scale(1.0321,1)" font-size="30.56">San Andreas 1</text>
<circle cx="1174.6" cy="438.6" r="11.1" fill="#88f898"/>
<text transform="translate(1225.25,447.34) scale(1.0310,1)" font-size="30.56">San Andreas 2</text>
<circle cx="1174.6" cy="480.7" r="11.1" fill="#8466f5"/>
<text transform="translate(1225.25,489.41) scale(1.0327,1)" font-size="30.56">San Andreas 3</text>
<circle cx="1174.6" cy="522.8" r="11.1" fill="#578a7c"/>
<text transform="translate(1225.25,531.48) scale(1.0340,1)" font-size="30.56">San Andreas 4</text>
<circle cx="1174.6" cy="564.9" r="11.1" fill="#6a0042"/>
<text transform="translate(1225.25,573.55) scale(1.0316,1)" font-size="30.56">San Andreas 5</text>
<circle cx="1174.6" cy="606.9" r="11.1" fill="#e6ff14"/>
<text transform="translate(1225.25,615.62) scale(1.0353,1)" font-size="30.56">San Andreas 6</text>
<circle cx="1174.6" cy="649.0" r="11.1" fill="#ff870f"/>
<text transform="translate(1225.26,657.69) scale(1.0293,1)" font-size="30.56">San Gregorio</text>
<circle cx="1174.6" cy="691.1" r="11.1" fill="#735f00"/>
<text transform="translate(1225.30,699.76) scale(0.9991,1)" font-size="30.56">San Jacinto</text>
<circle cx="1174.6" cy="733.1" r="11.1" fill="#b4009f"/>
<text transform="translate(1225.20,741.83) scale(1.0671,1)" font-size="30.56">Superstition Hills</text>
</g>
</svg></body></html>
